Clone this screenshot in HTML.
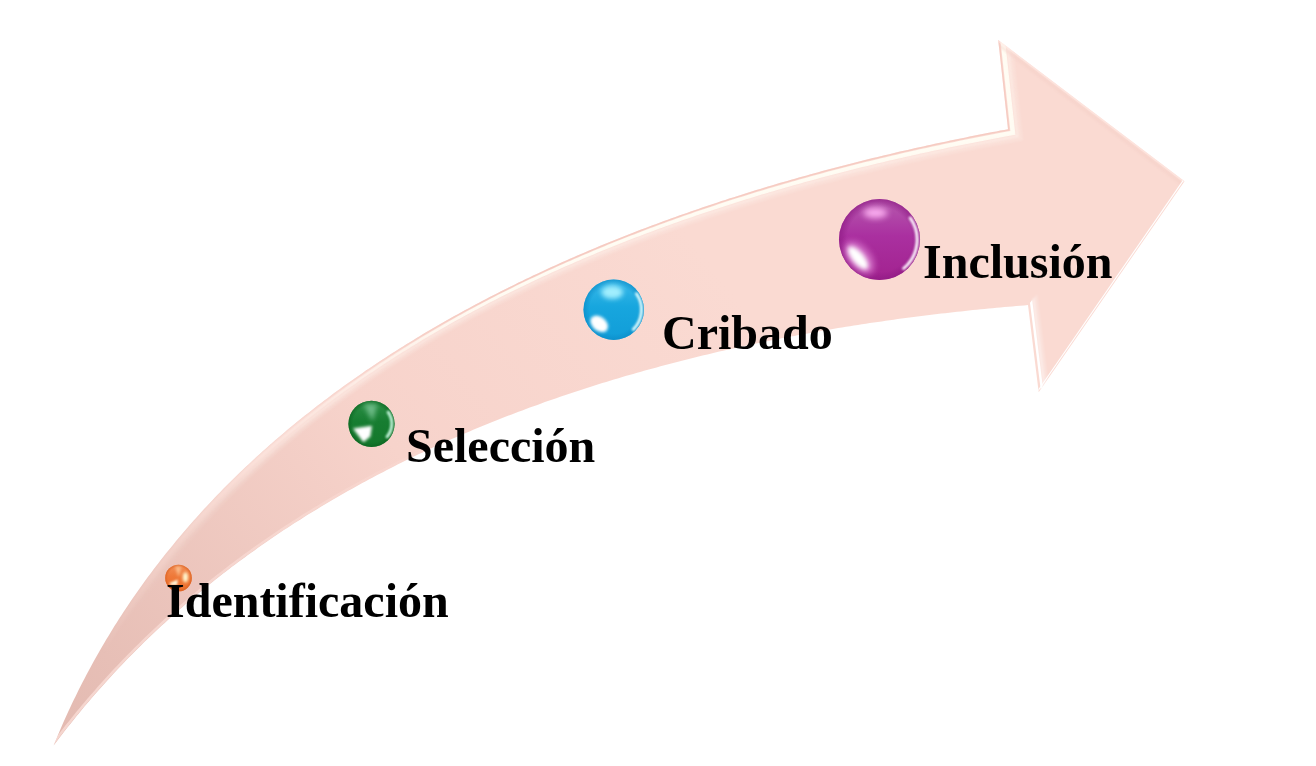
<!DOCTYPE html>
<html><head><meta charset="utf-8">
<style>
html,body{margin:0;padding:0;background:#fff;}
body{width:1316px;height:766px;overflow:hidden;position:relative;}
svg{position:absolute;left:0;top:0;}
.t{position:absolute;font-family:"Liberation Serif",serif;font-weight:bold;font-size:48px;line-height:1;color:#000;white-space:nowrap;will-change:transform;}
</style></head><body>
<svg width="1316" height="766" viewBox="0 0 1316 766">
  <defs>
    <linearGradient id="fill" gradientUnits="userSpaceOnUse" x1="60" y1="740" x2="700" y2="250">
      <stop offset="0" stop-color="#E3BAB1"/>
      <stop offset="0.55" stop-color="#F7D3CB"/>
      <stop offset="1" stop-color="#FADAD2"/>
    </linearGradient>
    <clipPath id="clip"><path d="M53.6,745.6 L55.2,741.7 L56.8,737.9 L58.4,734.0 L60.0,730.2 L61.6,726.4 L63.3,722.6 L65.0,718.8 L66.7,715.1 L68.4,711.3 L70.2,707.6 L71.9,703.8 L73.7,700.1 L75.5,696.4 L77.3,692.8 L79.1,689.1 L80.9,685.4 L82.8,681.8 L84.7,678.2 L86.6,674.6 L88.5,671.0 L90.4,667.4 L92.4,663.8 L94.3,660.3 L96.3,656.8 L98.3,653.2 L100.3,649.7 L102.3,646.2 L104.4,642.8 L106.4,639.3 L108.5,635.9 L110.6,632.4 L112.7,629.0 L114.8,625.6 L117.0,622.2 L119.1,618.8 L121.3,615.4 L123.5,612.1 L125.7,608.8 L127.9,605.4 L130.2,602.1 L132.4,598.8 L134.7,595.5 L137.0,592.3 L139.3,589.0 L141.6,585.8 L143.9,582.6 L146.2,579.3 L148.6,576.1 L151.0,573.0 L153.3,569.8 L155.8,566.6 L158.2,563.5 L160.6,560.3 L163.0,557.2 L165.5,554.1 L168.0,551.0 L170.5,548.0 L173.0,544.9 L175.5,541.8 L178.0,538.8 L180.6,535.8 L183.1,532.8 L185.7,529.8 L188.3,526.8 L190.9,523.8 L193.5,520.8 L196.1,517.9 L198.8,515.0 L201.4,512.0 L204.1,509.1 L206.8,506.2 L209.4,503.4 L212.2,500.5 L214.9,497.6 L217.6,494.8 L220.4,492.0 L223.1,489.1 L225.9,486.3 L228.7,483.5 L231.5,480.8 L234.3,478.0 L237.1,475.3 L239.9,472.5 L242.8,469.8 L245.6,467.1 L248.5,464.4 L251.4,461.7 L254.3,459.0 L257.2,456.3 L260.1,453.7 L263.0,451.0 L266.0,448.4 L268.9,445.8 L271.9,443.2 L274.9,440.6 L277.9,438.0 L280.9,435.4 L283.9,432.9 L286.9,430.3 L289.9,427.8 L293.0,425.3 L296.0,422.8 L299.1,420.3 L302.2,417.8 L305.3,415.3 L308.4,412.9 L311.5,410.4 L314.6,408.0 L317.7,405.6 L320.9,403.2 L324.0,400.8 L327.2,398.4 L330.4,396.0 L333.6,393.6 L336.7,391.3 L340.0,389.0 L343.2,386.6 L346.4,384.3 L349.6,382.0 L352.9,379.7 L356.1,377.4 L359.4,375.2 L362.6,372.9 L365.9,370.6 L369.2,368.4 L372.5,366.2 L375.8,364.0 L379.1,361.8 L382.5,359.6 L385.8,357.4 L389.1,355.2 L392.5,353.1 L395.9,350.9 L399.2,348.8 L402.6,346.7 L406.0,344.6 L409.4,342.4 L412.8,340.4 L416.2,338.3 L419.6,336.2 L423.1,334.1 L426.5,332.1 L430.0,330.1 L433.4,328.0 L436.9,326.0 L440.3,324.0 L443.8,322.0 L447.3,320.0 L450.8,318.1 L454.3,316.1 L457.8,314.2 L461.3,312.2 L464.8,310.3 L468.4,308.4 L471.9,306.5 L475.5,304.6 L479.0,302.7 L482.6,300.8 L486.1,298.9 L489.7,297.1 L493.3,295.2 L496.9,293.4 L500.5,291.6 L504.1,289.8 L507.7,288.0 L511.3,286.2 L514.9,284.4 L518.5,282.6 L522.1,280.9 L525.8,279.1 L529.4,277.4 L533.1,275.6 L536.7,273.9 L540.4,272.2 L544.1,270.5 L547.7,268.8 L551.4,267.1 L555.1,265.4 L558.8,263.8 L562.5,262.1 L566.2,260.5 L569.9,258.8 L573.6,257.2 L577.3,255.6 L581.0,254.0 L584.7,252.4 L588.5,250.8 L592.2,249.2 L595.9,247.7 L599.7,246.1 L603.4,244.6 L607.2,243.0 L610.9,241.5 L614.7,240.0 L618.5,238.5 L622.2,237.0 L626.0,235.5 L629.8,234.0 L633.6,232.5 L637.3,231.1 L641.1,229.6 L644.9,228.2 L648.7,226.7 L652.5,225.3 L656.3,223.9 L660.1,222.5 L663.9,221.1 L667.8,219.7 L671.6,218.3 L675.4,216.9 L679.2,215.6 L683.0,214.2 L686.9,212.9 L690.7,211.5 L694.5,210.2 L698.4,208.9 L702.2,207.6 L706.1,206.3 L709.9,205.0 L713.8,203.7 L717.6,202.4 L721.5,201.1 L725.3,199.9 L729.2,198.6 L733.0,197.4 L736.9,196.2 L740.8,194.9 L744.6,193.7 L748.5,192.5 L752.4,191.3 L756.2,190.1 L760.1,188.9 L764.0,187.8 L767.9,186.6 L771.7,185.4 L775.6,184.3 L779.5,183.1 L783.4,182.0 L787.3,180.9 L791.1,179.8 L795.0,178.7 L798.9,177.6 L802.8,176.5 L806.7,175.4 L810.6,174.3 L814.5,173.2 L818.3,172.2 L822.2,171.1 L826.1,170.1 L830.0,169.0 L833.9,168.0 L837.8,167.0 L841.7,166.0 L845.6,165.0 L849.5,164.0 L853.4,163.0 L857.2,162.0 L861.1,161.0 L865.0,160.0 L868.9,159.1 L872.8,158.1 L876.7,157.2 L880.6,156.2 L884.5,155.3 L888.3,154.4 L892.2,153.5 L896.1,152.6 L900.0,151.6 L903.9,150.8 L907.7,149.9 L911.6,149.0 L915.5,148.1 L919.4,147.2 L923.3,146.4 L927.1,145.5 L931.0,144.7 L934.9,143.8 L938.7,143.0 L942.6,142.2 L946.5,141.4 L950.3,140.6 L954.2,139.8 L958.0,139.0 L961.9,138.2 L965.8,137.4 L969.6,136.6 L973.5,135.8 L977.3,135.1 L981.1,134.3 L985.0,133.6 L988.8,132.8 L992.7,132.1 L996.5,131.4 L1000.3,130.6 L1004.2,129.9 L1008.0,129.2 L998.2,40.0 L1184.5,181.2 L1038.7,392.3 L1028.0,305.1 L1024.1,305.4 L1020.1,305.7 L1016.2,306.1 L1012.3,306.4 L1008.4,306.8 L1004.4,307.1 L1000.5,307.5 L996.6,307.8 L992.6,308.2 L988.7,308.6 L984.7,309.0 L980.8,309.3 L976.8,309.7 L972.9,310.1 L968.9,310.6 L965.0,311.0 L961.0,311.4 L957.1,311.8 L953.1,312.3 L949.2,312.7 L945.2,313.2 L941.2,313.6 L937.3,314.1 L933.3,314.6 L929.4,315.0 L925.4,315.5 L921.4,316.0 L917.5,316.5 L913.5,317.0 L909.5,317.5 L905.6,318.1 L901.6,318.6 L897.6,319.1 L893.7,319.7 L889.7,320.2 L885.7,320.8 L881.7,321.4 L877.8,321.9 L873.8,322.5 L869.8,323.1 L865.9,323.7 L861.9,324.3 L857.9,324.9 L853.9,325.6 L850.0,326.2 L846.0,326.8 L842.0,327.5 L838.1,328.1 L834.1,328.8 L830.1,329.5 L826.1,330.1 L822.2,330.8 L818.2,331.5 L814.2,332.2 L810.3,332.9 L806.3,333.7 L802.3,334.4 L798.4,335.1 L794.4,335.9 L790.4,336.6 L786.5,337.4 L782.5,338.1 L778.5,338.9 L774.6,339.7 L770.6,340.5 L766.7,341.3 L762.7,342.1 L758.8,342.9 L754.8,343.8 L750.8,344.6 L746.9,345.4 L742.9,346.3 L739.0,347.2 L735.1,348.0 L731.1,348.9 L727.2,349.8 L723.2,350.7 L719.3,351.6 L715.3,352.5 L711.4,353.4 L707.5,354.4 L703.6,355.3 L699.6,356.3 L695.7,357.2 L691.8,358.2 L687.9,359.2 L683.9,360.2 L680.0,361.2 L676.1,362.2 L672.2,363.2 L668.3,364.2 L664.4,365.3 L660.5,366.3 L656.6,367.4 L652.7,368.4 L648.8,369.5 L644.9,370.6 L641.0,371.7 L637.1,372.8 L633.2,373.9 L629.4,375.0 L625.5,376.1 L621.6,377.3 L617.7,378.4 L613.9,379.6 L610.0,380.7 L606.2,381.9 L602.3,383.1 L598.4,384.3 L594.6,385.5 L590.8,386.7 L586.9,388.0 L583.1,389.2 L579.3,390.4 L575.4,391.7 L571.6,393.0 L567.8,394.3 L564.0,395.5 L560.2,396.8 L556.3,398.2 L552.5,399.5 L548.7,400.8 L544.9,402.1 L541.2,403.5 L537.4,404.9 L533.6,406.2 L529.8,407.6 L526.0,409.0 L522.3,410.4 L518.5,411.8 L514.8,413.2 L511.0,414.7 L507.3,416.1 L503.5,417.6 L499.8,419.0 L496.1,420.5 L492.3,422.0 L488.6,423.5 L484.9,425.0 L481.2,426.5 L477.5,428.1 L473.8,429.6 L470.1,431.2 L466.4,432.7 L462.7,434.3 L459.0,435.9 L455.4,437.5 L451.7,439.1 L448.1,440.7 L444.4,442.4 L440.8,444.0 L437.1,445.7 L433.5,447.3 L429.9,449.0 L426.2,450.7 L422.6,452.4 L419.0,454.1 L415.4,455.8 L411.8,457.6 L408.2,459.3 L404.6,461.1 L401.1,462.8 L397.5,464.6 L393.9,466.4 L390.4,468.2 L386.8,470.0 L383.3,471.9 L379.7,473.7 L376.2,475.6 L372.7,477.4 L369.2,479.3 L365.7,481.2 L362.2,483.1 L358.7,485.0 L355.2,486.9 L351.7,488.9 L348.2,490.8 L344.8,492.8 L341.3,494.7 L337.9,496.7 L334.4,498.7 L331.0,500.7 L327.6,502.7 L324.2,504.8 L320.8,506.8 L317.4,508.9 L314.0,510.9 L310.6,513.0 L307.2,515.1 L303.8,517.2 L300.5,519.4 L297.1,521.5 L293.8,523.6 L290.5,525.8 L287.1,528.0 L283.8,530.1 L280.5,532.3 L277.2,534.6 L273.9,536.8 L270.6,539.0 L267.4,541.3 L264.1,543.5 L260.8,545.8 L257.6,548.1 L254.4,550.4 L251.1,552.7 L247.9,555.0 L244.7,557.4 L241.5,559.7 L238.3,562.1 L235.1,564.5 L231.9,566.8 L228.8,569.2 L225.6,571.7 L222.5,574.1 L219.4,576.5 L216.2,579.0 L213.1,581.5 L210.0,584.0 L206.9,586.5 L203.8,589.0 L200.8,591.5 L197.7,594.0 L194.6,596.6 L191.6,599.2 L188.6,601.7 L185.5,604.3 L182.5,606.9 L179.5,609.6 L176.5,612.2 L173.5,614.8 L170.6,617.5 L167.6,620.2 L164.7,622.9 L161.7,625.6 L158.8,628.3 L155.9,631.0 L153.0,633.8 L150.1,636.5 L147.2,639.3 L144.3,642.1 L141.4,644.9 L138.6,647.7 L135.8,650.6 L132.9,653.4 L130.1,656.3 L127.3,659.1 L124.5,662.0 L121.7,664.9 L119.0,667.8 L116.2,670.8 L113.4,673.7 L110.7,676.7 L108.0,679.7 L105.3,682.7 L102.6,685.7 L99.9,688.7 L97.2,691.7 L94.5,694.8 L91.9,697.8 L89.2,700.9 L86.6,704.0 L84.0,707.1 L81.4,710.2 L78.8,713.4 L76.2,716.5 L73.7,719.7 L71.1,722.9 L68.6,726.1 L66.0,729.3 L63.5,732.5 L61.0,735.8 L58.5,739.0 L56.1,742.3 L53.6,745.6 Z"/></clipPath>
    <filter id="blur1" x="-5%" y="-5%" width="110%" height="110%"><feGaussianBlur stdDeviation="1.3"/></filter>
    <filter id="blur2" x="-5%" y="-5%" width="110%" height="110%"><feGaussianBlur stdDeviation="0.6"/></filter>
    <linearGradient id="hl" gradientUnits="userSpaceOnUse" x1="250" y1="460" x2="470" y2="312">
      <stop offset="0" stop-color="#FFFCF3" stop-opacity="0"/>
      <stop offset="1" stop-color="#FFFCF3" stop-opacity="1"/>
    </linearGradient>
    <linearGradient id="hl2" gradientUnits="userSpaceOnUse" x1="110" y1="620" x2="320" y2="403">
      <stop offset="0" stop-color="#FFF6F0" stop-opacity="0"/>
      <stop offset="1" stop-color="#FFF6F0" stop-opacity="1"/>
    </linearGradient>
    <linearGradient id="el" gradientUnits="userSpaceOnUse" x1="230" y1="475" x2="450" y2="320">
      <stop offset="0" stop-color="#F1BAAF" stop-opacity="0"/>
      <stop offset="1" stop-color="#F1BAAF" stop-opacity="0.45"/>
    </linearGradient>
    <linearGradient id="hlA" gradientUnits="userSpaceOnUse" x1="100" y1="650" x2="520" y2="282">
      <stop offset="0" stop-color="#FFE8E2" stop-opacity="0"/>
      <stop offset="0.45" stop-color="#FFE8E2" stop-opacity="0.75"/>
      <stop offset="1" stop-color="#FFE8E2" stop-opacity="0"/>
    </linearGradient>
    <linearGradient id="ll" gradientUnits="userSpaceOnUse" x1="80" y1="710" x2="460" y2="430">
      <stop offset="0" stop-color="#FFE4DE" stop-opacity="0.65"/>
      <stop offset="0.6" stop-color="#FFE4DE" stop-opacity="0.45"/>
      <stop offset="1" stop-color="#FFE4DE" stop-opacity="0"/>
    </linearGradient>
    
    <linearGradient id="sob" x1="0" y1="0" x2="0" y2="1">
      <stop offset="0" stop-color="#F39058"/>
      <stop offset="0.45" stop-color="#EE7838"/>
      <stop offset="1" stop-color="#EB6F2D"/>
    </linearGradient>
    <radialGradient id="soe" cx="0.5" cy="0.5" r="0.5">
      <stop offset="0.8" stop-color="#D85E1E" stop-opacity="0"/>
      <stop offset="1" stop-color="#D85E1E" stop-opacity="0.7"/>
    </radialGradient>
    <filter id="sof1" x="-50%" y="-50%" width="200%" height="200%"><feGaussianBlur stdDeviation="0.12"/></filter>
    <filter id="sof2" x="-50%" y="-50%" width="200%" height="200%"><feGaussianBlur stdDeviation="0.07"/></filter>
    <filter id="sof3" x="-50%" y="-50%" width="200%" height="200%"><feGaussianBlur stdDeviation="0.1"/></filter>
    <linearGradient id="sgb" x1="0" y1="0" x2="0" y2="1">
      <stop offset="0" stop-color="#2E9048"/>
      <stop offset="0.45" stop-color="#177D31"/>
      <stop offset="1" stop-color="#13772B"/>
    </linearGradient>
    <radialGradient id="sge" cx="0.5" cy="0.5" r="0.5">
      <stop offset="0.8" stop-color="#0B6420" stop-opacity="0"/>
      <stop offset="1" stop-color="#0B6420" stop-opacity="0.7"/>
    </radialGradient>
    <filter id="sgf1" x="-50%" y="-50%" width="200%" height="200%"><feGaussianBlur stdDeviation="0.12"/></filter>
    <filter id="sgf2" x="-50%" y="-50%" width="200%" height="200%"><feGaussianBlur stdDeviation="0.07"/></filter>
    <filter id="sgf3" x="-50%" y="-50%" width="200%" height="200%"><feGaussianBlur stdDeviation="0.05"/></filter>
    <linearGradient id="sbb" x1="0" y1="0" x2="0" y2="1">
      <stop offset="0" stop-color="#3CBAEA"/>
      <stop offset="0.45" stop-color="#17A6DE"/>
      <stop offset="1" stop-color="#119DD8"/>
    </linearGradient>
    <radialGradient id="sbe" cx="0.5" cy="0.5" r="0.5">
      <stop offset="0.8" stop-color="#0B8CC8" stop-opacity="0"/>
      <stop offset="1" stop-color="#0B8CC8" stop-opacity="0.7"/>
    </radialGradient>
    <filter id="sbf1" x="-50%" y="-50%" width="200%" height="200%"><feGaussianBlur stdDeviation="0.08"/></filter>
    <filter id="sbf2" x="-50%" y="-50%" width="200%" height="200%"><feGaussianBlur stdDeviation="0.05"/></filter>
    <filter id="sbf3" x="-50%" y="-50%" width="200%" height="200%"><feGaussianBlur stdDeviation="0.03"/></filter>
    <linearGradient id="spb" x1="0" y1="0" x2="0" y2="1">
      <stop offset="0" stop-color="#B65AAE"/>
      <stop offset="0.45" stop-color="#AA30A0"/>
      <stop offset="1" stop-color="#A2228F"/>
    </linearGradient>
    <radialGradient id="spe" cx="0.5" cy="0.5" r="0.5">
      <stop offset="0.8" stop-color="#8E1A84" stop-opacity="0"/>
      <stop offset="1" stop-color="#8E1A84" stop-opacity="0.7"/>
    </radialGradient>
    <filter id="spf1" x="-50%" y="-50%" width="200%" height="200%"><feGaussianBlur stdDeviation="0.08"/></filter>
    <filter id="spf2" x="-50%" y="-50%" width="200%" height="200%"><feGaussianBlur stdDeviation="0.05"/></filter>
    <filter id="spf3" x="-50%" y="-50%" width="200%" height="200%"><feGaussianBlur stdDeviation="0.025"/></filter>
  </defs>
  <path d="M53.6,745.6 L55.2,741.7 L56.8,737.9 L58.4,734.0 L60.0,730.2 L61.6,726.4 L63.3,722.6 L65.0,718.8 L66.7,715.1 L68.4,711.3 L70.2,707.6 L71.9,703.8 L73.7,700.1 L75.5,696.4 L77.3,692.8 L79.1,689.1 L80.9,685.4 L82.8,681.8 L84.7,678.2 L86.6,674.6 L88.5,671.0 L90.4,667.4 L92.4,663.8 L94.3,660.3 L96.3,656.8 L98.3,653.2 L100.3,649.7 L102.3,646.2 L104.4,642.8 L106.4,639.3 L108.5,635.9 L110.6,632.4 L112.7,629.0 L114.8,625.6 L117.0,622.2 L119.1,618.8 L121.3,615.4 L123.5,612.1 L125.7,608.8 L127.9,605.4 L130.2,602.1 L132.4,598.8 L134.7,595.5 L137.0,592.3 L139.3,589.0 L141.6,585.8 L143.9,582.6 L146.2,579.3 L148.6,576.1 L151.0,573.0 L153.3,569.8 L155.8,566.6 L158.2,563.5 L160.6,560.3 L163.0,557.2 L165.5,554.1 L168.0,551.0 L170.5,548.0 L173.0,544.9 L175.5,541.8 L178.0,538.8 L180.6,535.8 L183.1,532.8 L185.7,529.8 L188.3,526.8 L190.9,523.8 L193.5,520.8 L196.1,517.9 L198.8,515.0 L201.4,512.0 L204.1,509.1 L206.8,506.2 L209.4,503.4 L212.2,500.5 L214.9,497.6 L217.6,494.8 L220.4,492.0 L223.1,489.1 L225.9,486.3 L228.7,483.5 L231.5,480.8 L234.3,478.0 L237.1,475.3 L239.9,472.5 L242.8,469.8 L245.6,467.1 L248.5,464.4 L251.4,461.7 L254.3,459.0 L257.2,456.3 L260.1,453.7 L263.0,451.0 L266.0,448.4 L268.9,445.8 L271.9,443.2 L274.9,440.6 L277.9,438.0 L280.9,435.4 L283.9,432.9 L286.9,430.3 L289.9,427.8 L293.0,425.3 L296.0,422.8 L299.1,420.3 L302.2,417.8 L305.3,415.3 L308.4,412.9 L311.5,410.4 L314.6,408.0 L317.7,405.6 L320.9,403.2 L324.0,400.8 L327.2,398.4 L330.4,396.0 L333.6,393.6 L336.7,391.3 L340.0,389.0 L343.2,386.6 L346.4,384.3 L349.6,382.0 L352.9,379.7 L356.1,377.4 L359.4,375.2 L362.6,372.9 L365.9,370.6 L369.2,368.4 L372.5,366.2 L375.8,364.0 L379.1,361.8 L382.5,359.6 L385.8,357.4 L389.1,355.2 L392.5,353.1 L395.9,350.9 L399.2,348.8 L402.6,346.7 L406.0,344.6 L409.4,342.4 L412.8,340.4 L416.2,338.3 L419.6,336.2 L423.1,334.1 L426.5,332.1 L430.0,330.1 L433.4,328.0 L436.9,326.0 L440.3,324.0 L443.8,322.0 L447.3,320.0 L450.8,318.1 L454.3,316.1 L457.8,314.2 L461.3,312.2 L464.8,310.3 L468.4,308.4 L471.9,306.5 L475.5,304.6 L479.0,302.7 L482.6,300.8 L486.1,298.9 L489.7,297.1 L493.3,295.2 L496.9,293.4 L500.5,291.6 L504.1,289.8 L507.7,288.0 L511.3,286.2 L514.9,284.4 L518.5,282.6 L522.1,280.9 L525.8,279.1 L529.4,277.4 L533.1,275.6 L536.7,273.9 L540.4,272.2 L544.1,270.5 L547.7,268.8 L551.4,267.1 L555.1,265.4 L558.8,263.8 L562.5,262.1 L566.2,260.5 L569.9,258.8 L573.6,257.2 L577.3,255.6 L581.0,254.0 L584.7,252.4 L588.5,250.8 L592.2,249.2 L595.9,247.7 L599.7,246.1 L603.4,244.6 L607.2,243.0 L610.9,241.5 L614.7,240.0 L618.5,238.5 L622.2,237.0 L626.0,235.5 L629.8,234.0 L633.6,232.5 L637.3,231.1 L641.1,229.6 L644.9,228.2 L648.7,226.7 L652.5,225.3 L656.3,223.9 L660.1,222.5 L663.9,221.1 L667.8,219.7 L671.6,218.3 L675.4,216.9 L679.2,215.6 L683.0,214.2 L686.9,212.9 L690.7,211.5 L694.5,210.2 L698.4,208.9 L702.2,207.6 L706.1,206.3 L709.9,205.0 L713.8,203.7 L717.6,202.4 L721.5,201.1 L725.3,199.9 L729.2,198.6 L733.0,197.4 L736.9,196.2 L740.8,194.9 L744.6,193.7 L748.5,192.5 L752.4,191.3 L756.2,190.1 L760.1,188.9 L764.0,187.8 L767.9,186.6 L771.7,185.4 L775.6,184.3 L779.5,183.1 L783.4,182.0 L787.3,180.9 L791.1,179.8 L795.0,178.7 L798.9,177.6 L802.8,176.5 L806.7,175.4 L810.6,174.3 L814.5,173.2 L818.3,172.2 L822.2,171.1 L826.1,170.1 L830.0,169.0 L833.9,168.0 L837.8,167.0 L841.7,166.0 L845.6,165.0 L849.5,164.0 L853.4,163.0 L857.2,162.0 L861.1,161.0 L865.0,160.0 L868.9,159.1 L872.8,158.1 L876.7,157.2 L880.6,156.2 L884.5,155.3 L888.3,154.4 L892.2,153.5 L896.1,152.6 L900.0,151.6 L903.9,150.8 L907.7,149.9 L911.6,149.0 L915.5,148.1 L919.4,147.2 L923.3,146.4 L927.1,145.5 L931.0,144.7 L934.9,143.8 L938.7,143.0 L942.6,142.2 L946.5,141.4 L950.3,140.6 L954.2,139.8 L958.0,139.0 L961.9,138.2 L965.8,137.4 L969.6,136.6 L973.5,135.8 L977.3,135.1 L981.1,134.3 L985.0,133.6 L988.8,132.8 L992.7,132.1 L996.5,131.4 L1000.3,130.6 L1004.2,129.9 L1008.0,129.2 L998.2,40.0 L1184.5,181.2 L1038.7,392.3 L1028.0,305.1 L1024.1,305.4 L1020.1,305.7 L1016.2,306.1 L1012.3,306.4 L1008.4,306.8 L1004.4,307.1 L1000.5,307.5 L996.6,307.8 L992.6,308.2 L988.7,308.6 L984.7,309.0 L980.8,309.3 L976.8,309.7 L972.9,310.1 L968.9,310.6 L965.0,311.0 L961.0,311.4 L957.1,311.8 L953.1,312.3 L949.2,312.7 L945.2,313.2 L941.2,313.6 L937.3,314.1 L933.3,314.6 L929.4,315.0 L925.4,315.5 L921.4,316.0 L917.5,316.5 L913.5,317.0 L909.5,317.5 L905.6,318.1 L901.6,318.6 L897.6,319.1 L893.7,319.7 L889.7,320.2 L885.7,320.8 L881.7,321.4 L877.8,321.9 L873.8,322.5 L869.8,323.1 L865.9,323.7 L861.9,324.3 L857.9,324.9 L853.9,325.6 L850.0,326.2 L846.0,326.8 L842.0,327.5 L838.1,328.1 L834.1,328.8 L830.1,329.5 L826.1,330.1 L822.2,330.8 L818.2,331.5 L814.2,332.2 L810.3,332.9 L806.3,333.7 L802.3,334.4 L798.4,335.1 L794.4,335.9 L790.4,336.6 L786.5,337.4 L782.5,338.1 L778.5,338.9 L774.6,339.7 L770.6,340.5 L766.7,341.3 L762.7,342.1 L758.8,342.9 L754.8,343.8 L750.8,344.6 L746.9,345.4 L742.9,346.3 L739.0,347.2 L735.1,348.0 L731.1,348.9 L727.2,349.8 L723.2,350.7 L719.3,351.6 L715.3,352.5 L711.4,353.4 L707.5,354.4 L703.6,355.3 L699.6,356.3 L695.7,357.2 L691.8,358.2 L687.9,359.2 L683.9,360.2 L680.0,361.2 L676.1,362.2 L672.2,363.2 L668.3,364.2 L664.4,365.3 L660.5,366.3 L656.6,367.4 L652.7,368.4 L648.8,369.5 L644.9,370.6 L641.0,371.7 L637.1,372.8 L633.2,373.9 L629.4,375.0 L625.5,376.1 L621.6,377.3 L617.7,378.4 L613.9,379.6 L610.0,380.7 L606.2,381.9 L602.3,383.1 L598.4,384.3 L594.6,385.5 L590.8,386.7 L586.9,388.0 L583.1,389.2 L579.3,390.4 L575.4,391.7 L571.6,393.0 L567.8,394.3 L564.0,395.5 L560.2,396.8 L556.3,398.2 L552.5,399.5 L548.7,400.8 L544.9,402.1 L541.2,403.5 L537.4,404.9 L533.6,406.2 L529.8,407.6 L526.0,409.0 L522.3,410.4 L518.5,411.8 L514.8,413.2 L511.0,414.7 L507.3,416.1 L503.5,417.6 L499.8,419.0 L496.1,420.5 L492.3,422.0 L488.6,423.5 L484.9,425.0 L481.2,426.5 L477.5,428.1 L473.8,429.6 L470.1,431.2 L466.4,432.7 L462.7,434.3 L459.0,435.9 L455.4,437.5 L451.7,439.1 L448.1,440.7 L444.4,442.4 L440.8,444.0 L437.1,445.7 L433.5,447.3 L429.9,449.0 L426.2,450.7 L422.6,452.4 L419.0,454.1 L415.4,455.8 L411.8,457.6 L408.2,459.3 L404.6,461.1 L401.1,462.8 L397.5,464.6 L393.9,466.4 L390.4,468.2 L386.8,470.0 L383.3,471.9 L379.7,473.7 L376.2,475.6 L372.7,477.4 L369.2,479.3 L365.7,481.2 L362.2,483.1 L358.7,485.0 L355.2,486.9 L351.7,488.9 L348.2,490.8 L344.8,492.8 L341.3,494.7 L337.9,496.7 L334.4,498.7 L331.0,500.7 L327.6,502.7 L324.2,504.8 L320.8,506.8 L317.4,508.9 L314.0,510.9 L310.6,513.0 L307.2,515.1 L303.8,517.2 L300.5,519.4 L297.1,521.5 L293.8,523.6 L290.5,525.8 L287.1,528.0 L283.8,530.1 L280.5,532.3 L277.2,534.6 L273.9,536.8 L270.6,539.0 L267.4,541.3 L264.1,543.5 L260.8,545.8 L257.6,548.1 L254.4,550.4 L251.1,552.7 L247.9,555.0 L244.7,557.4 L241.5,559.7 L238.3,562.1 L235.1,564.5 L231.9,566.8 L228.8,569.2 L225.6,571.7 L222.5,574.1 L219.4,576.5 L216.2,579.0 L213.1,581.5 L210.0,584.0 L206.9,586.5 L203.8,589.0 L200.8,591.5 L197.7,594.0 L194.6,596.6 L191.6,599.2 L188.6,601.7 L185.5,604.3 L182.5,606.9 L179.5,609.6 L176.5,612.2 L173.5,614.8 L170.6,617.5 L167.6,620.2 L164.7,622.9 L161.7,625.6 L158.8,628.3 L155.9,631.0 L153.0,633.8 L150.1,636.5 L147.2,639.3 L144.3,642.1 L141.4,644.9 L138.6,647.7 L135.8,650.6 L132.9,653.4 L130.1,656.3 L127.3,659.1 L124.5,662.0 L121.7,664.9 L119.0,667.8 L116.2,670.8 L113.4,673.7 L110.7,676.7 L108.0,679.7 L105.3,682.7 L102.6,685.7 L99.9,688.7 L97.2,691.7 L94.5,694.8 L91.9,697.8 L89.2,700.9 L86.6,704.0 L84.0,707.1 L81.4,710.2 L78.8,713.4 L76.2,716.5 L73.7,719.7 L71.1,722.9 L68.6,726.1 L66.0,729.3 L63.5,732.5 L61.0,735.8 L58.5,739.0 L56.1,742.3 L53.6,745.6 Z" fill="url(#fill)"/>
  <g clip-path="url(#clip)">
    <path d="M53.6,745.6 L55.2,741.7 L56.8,737.9 L58.4,734.0 L60.0,730.2 L61.6,726.4 L63.3,722.6 L65.0,718.8 L66.7,715.1 L68.4,711.3 L70.2,707.6 L71.9,703.8 L73.7,700.1 L75.5,696.4 L77.3,692.8 L79.1,689.1 L80.9,685.4 L82.8,681.8 L84.7,678.2 L86.6,674.6 L88.5,671.0 L90.4,667.4 L92.4,663.8 L94.3,660.3 L96.3,656.8 L98.3,653.2 L100.3,649.7 L102.3,646.2 L104.4,642.8 L106.4,639.3 L108.5,635.9 L110.6,632.4 L112.7,629.0 L114.8,625.6 L117.0,622.2 L119.1,618.8 L121.3,615.4 L123.5,612.1 L125.7,608.8 L127.9,605.4 L130.2,602.1 L132.4,598.8 L134.7,595.5 L137.0,592.3 L139.3,589.0 L141.6,585.8 L143.9,582.6 L146.2,579.3 L148.6,576.1 L151.0,573.0 L153.3,569.8 L155.8,566.6 L158.2,563.5 L160.6,560.3 L163.0,557.2 L165.5,554.1 L168.0,551.0 L170.5,548.0 L173.0,544.9 L175.5,541.8 L178.0,538.8 L180.6,535.8 L183.1,532.8 L185.7,529.8 L188.3,526.8 L190.9,523.8 L193.5,520.8 L196.1,517.9 L198.8,515.0 L201.4,512.0 L204.1,509.1 L206.8,506.2 L209.4,503.4 L212.2,500.5 L214.9,497.6 L217.6,494.8 L220.4,492.0 L223.1,489.1 L225.9,486.3 L228.7,483.5 L231.5,480.8 L234.3,478.0 L237.1,475.3 L239.9,472.5 L242.8,469.8 L245.6,467.1 L248.5,464.4 L251.4,461.7 L254.3,459.0 L257.2,456.3 L260.1,453.7 L263.0,451.0 L266.0,448.4 L268.9,445.8 L271.9,443.2 L274.9,440.6 L277.9,438.0 L280.9,435.4 L283.9,432.9 L286.9,430.3 L289.9,427.8 L293.0,425.3 L296.0,422.8 L299.1,420.3 L302.2,417.8 L305.3,415.3 L308.4,412.9 L311.5,410.4 L314.6,408.0 L317.7,405.6 L320.9,403.2 L324.0,400.8 L327.2,398.4 L330.4,396.0 L333.6,393.6 L336.7,391.3 L340.0,389.0 L343.2,386.6 L346.4,384.3 L349.6,382.0 L352.9,379.7 L356.1,377.4 L359.4,375.2 L362.6,372.9 L365.9,370.6 L369.2,368.4 L372.5,366.2 L375.8,364.0 L379.1,361.8 L382.5,359.6 L385.8,357.4 L389.1,355.2 L392.5,353.1 L395.9,350.9 L399.2,348.8 L402.6,346.7 L406.0,344.6 L409.4,342.4 L412.8,340.4 L416.2,338.3 L419.6,336.2 L423.1,334.1 L426.5,332.1 L430.0,330.1 L433.4,328.0 L436.9,326.0 L440.3,324.0 L443.8,322.0 L447.3,320.0 L450.8,318.1 L454.3,316.1 L457.8,314.2 L461.3,312.2 L464.8,310.3 L468.4,308.4 L471.9,306.5 L475.5,304.6 L479.0,302.7 L482.6,300.8 L486.1,298.9 L489.7,297.1 L493.3,295.2 L496.9,293.4 L500.5,291.6 L504.1,289.8 L507.7,288.0 L511.3,286.2 L514.9,284.4 L518.5,282.6 L522.1,280.9 L525.8,279.1 L529.4,277.4 L533.1,275.6 L536.7,273.9 L540.4,272.2 L544.1,270.5 L547.7,268.8 L551.4,267.1 L555.1,265.4 L558.8,263.8 L562.5,262.1 L566.2,260.5 L569.9,258.8 L573.6,257.2 L577.3,255.6 L581.0,254.0 L584.7,252.4 L588.5,250.8 L592.2,249.2 L595.9,247.7 L599.7,246.1 L603.4,244.6 L607.2,243.0 L610.9,241.5 L614.7,240.0 L618.5,238.5 L622.2,237.0 L626.0,235.5 L629.8,234.0 L633.6,232.5 L637.3,231.1 L641.1,229.6 L644.9,228.2 L648.7,226.7 L652.5,225.3 L656.3,223.9 L660.1,222.5 L663.9,221.1 L667.8,219.7 L671.6,218.3 L675.4,216.9 L679.2,215.6 L683.0,214.2 L686.9,212.9 L690.7,211.5 L694.5,210.2 L698.4,208.9 L702.2,207.6 L706.1,206.3 L709.9,205.0 L713.8,203.7 L717.6,202.4 L721.5,201.1 L725.3,199.9 L729.2,198.6 L733.0,197.4 L736.9,196.2 L740.8,194.9 L744.6,193.7 L748.5,192.5 L752.4,191.3 L756.2,190.1 L760.1,188.9 L764.0,187.8 L767.9,186.6 L771.7,185.4 L775.6,184.3 L779.5,183.1 L783.4,182.0 L787.3,180.9 L791.1,179.8 L795.0,178.7 L798.9,177.6 L802.8,176.5 L806.7,175.4 L810.6,174.3 L814.5,173.2 L818.3,172.2 L822.2,171.1 L826.1,170.1 L830.0,169.0 L833.9,168.0 L837.8,167.0 L841.7,166.0 L845.6,165.0 L849.5,164.0 L853.4,163.0 L857.2,162.0 L861.1,161.0 L865.0,160.0 L868.9,159.1 L872.8,158.1 L876.7,157.2 L880.6,156.2 L884.5,155.3 L888.3,154.4 L892.2,153.5 L896.1,152.6 L900.0,151.6 L903.9,150.8 L907.7,149.9 L911.6,149.0 L915.5,148.1 L919.4,147.2 L923.3,146.4 L927.1,145.5 L931.0,144.7 L934.9,143.8 L938.7,143.0 L942.6,142.2 L946.5,141.4 L950.3,140.6 L954.2,139.8 L958.0,139.0 L961.9,138.2 L965.8,137.4 L969.6,136.6 L973.5,135.8 L977.3,135.1 L981.1,134.3 L985.0,133.6 L988.8,132.8 L992.7,132.1 L996.5,131.4 L1000.3,130.6 L1004.2,129.9 L1008.0,129.2 L998.2,40.0" fill="none" stroke="url(#el)" stroke-width="3.0" stroke-linejoin="miter"/>
    <path d="M55.34,746.34 L56.92,742.47 L58.51,738.62 L60.11,734.79 L61.74,730.97 L63.39,727.17 L65.05,723.38 L66.73,719.61 L68.43,715.85 L70.14,712.10 L71.88,708.38 L73.63,704.66 L75.39,700.96 L77.18,697.28 L78.98,693.61 L80.80,689.95 L82.64,686.31 L84.50,682.68 L86.37,679.07 L88.26,675.47 L90.16,671.89 L92.09,668.32 L94.03,664.76 L95.98,661.22 L97.96,657.69 L99.95,654.18 L101.95,650.68 L103.98,647.20 L106.01,643.73 L108.07,640.28 L110.14,636.83 L112.23,633.41 L114.33,629.99 L116.45,626.60 L118.59,623.21 L120.74,619.84 L122.91,616.48 L125.09,613.14 L127.29,609.81 L129.50,606.49 L131.73,603.19 L133.98,599.90 L136.24,596.63 L138.51,593.37 L140.80,590.12 L143.11,586.89 L145.43,583.67 L147.77,580.46 L150.12,577.27 L152.48,574.09 L154.86,570.93 L157.26,567.78 L159.67,564.64 L162.10,561.51 L164.53,558.40 L166.99,555.30 L169.46,552.22 L171.94,549.15 L174.43,546.09 L176.94,543.05 L179.47,540.01 L182.01,537.00 L184.56,533.99 L187.13,531.00 L189.71,528.02 L192.30,525.05 L194.91,522.10 L197.53,519.16 L200.16,516.24 L202.81,513.32 L205.47,510.42 L208.15,507.53 L210.83,504.66 L213.54,501.80 L216.25,498.95 L218.98,496.11 L221.72,493.29 L224.47,490.48 L227.23,487.68 L230.01,484.89 L232.80,482.12 L235.61,479.36 L238.42,476.61 L241.25,473.88 L244.09,471.16 L246.94,468.45 L249.81,465.75 L252.69,463.06 L255.57,460.39 L258.48,457.73 L261.39,455.08 L264.31,452.45 L267.25,449.82 L270.20,447.21 L273.16,444.62 L276.13,442.03 L279.11,439.45 L282.11,436.89 L285.11,434.34 L288.13,431.81 L291.16,429.28 L294.20,426.77 L297.25,424.26 L300.31,421.77 L303.38,419.30 L306.46,416.83 L309.56,414.38 L312.66,411.94 L315.78,409.51 L318.90,407.09 L322.04,404.68 L325.18,402.29 L328.34,399.90 L331.51,397.53 L334.68,395.17 L337.87,392.83 L341.07,390.49 L344.28,388.17 L347.49,385.85 L350.72,383.55 L353.96,381.26 L357.20,378.98 L360.46,376.72 L363.72,374.46 L367.00,372.22 L370.28,369.98 L373.58,367.76 L376.88,365.55 L380.19,363.35 L383.51,361.16 L386.84,358.99 L390.18,356.82 L393.53,354.67 L396.88,352.53 L400.25,350.39 L403.62,348.27 L407.01,346.16 L410.40,344.07 L413.80,341.98 L417.21,339.90 L420.62,337.84 L424.05,335.78 L427.48,333.74 L430.92,331.70 L434.37,329.68 L437.82,327.67 L441.29,325.67 L444.76,323.68 L448.24,321.70 L451.73,319.73 L455.22,317.78 L458.73,315.83 L462.24,313.90 L465.76,311.97 L469.28,310.06 L472.82,308.15 L476.36,306.26 L479.90,304.38 L483.46,302.51 L487.02,300.65 L490.58,298.79 L494.16,296.95 L497.74,295.12 L501.33,293.30 L504.92,291.49 L508.52,289.69 L512.13,287.90 L515.74,286.12 L519.36,284.35 L522.99,282.60 L526.62,280.85 L530.26,279.11 L533.90,277.38 L537.55,275.66 L541.21,273.95 L544.87,272.25 L548.54,270.56 L552.21,268.88 L555.89,267.21 L559.57,265.56 L563.26,263.91 L566.96,262.27 L570.66,260.64 L574.36,259.02 L578.07,257.40 L581.79,255.80 L585.51,254.21 L589.23,252.63 L592.96,251.06 L596.69,249.50 L600.43,247.94 L604.18,246.40 L607.92,244.86 L611.68,243.34 L615.43,241.82 L619.20,240.32 L622.96,238.82 L626.73,237.33 L630.50,235.86 L634.28,234.39 L638.06,232.93 L641.85,231.48 L645.64,230.04 L649.43,228.60 L653.23,227.18 L657.03,225.77 L660.83,224.36 L664.64,222.97 L668.45,221.58 L672.26,220.20 L676.08,218.83 L679.90,217.47 L683.72,216.12 L687.55,214.78 L691.38,213.44 L695.21,212.12 L699.05,210.80 L702.88,209.50 L706.72,208.20 L710.57,206.91 L714.41,205.63 L718.26,204.35 L722.11,203.09 L725.96,201.84 L729.81,200.59 L733.67,199.35 L737.53,198.12 L741.39,196.90 L745.25,195.69 L749.12,194.48 L752.98,193.28 L756.85,192.10 L760.72,190.92 L764.59,189.75 L768.46,188.58 L772.34,187.43 L776.21,186.28 L780.09,185.14 L783.96,184.01 L787.84,182.89 L791.72,181.78 L795.60,180.67 L799.48,179.57 L803.37,178.48 L807.25,177.40 L811.13,176.32 L815.02,175.26 L818.90,174.20 L822.79,173.15 L826.67,172.11 L830.56,171.07 L834.44,170.04 L838.33,169.02 L842.22,168.01 L846.10,167.01 L849.99,166.01 L853.88,165.02 L857.76,164.04 L861.65,163.07 L865.53,162.10 L869.42,161.14 L873.30,160.19 L877.19,159.25 L881.07,158.31 L884.95,157.38 L888.83,156.46 L892.71,155.55 L896.59,154.64 L900.47,153.74 L904.35,152.85 L908.23,151.96 L912.10,151.08 L915.98,150.21 L919.85,149.35 L923.72,148.49 L927.59,147.64 L931.46,146.80 L935.33,145.96 L939.19,145.13 L943.05,144.31 L946.92,143.50 L950.77,142.69 L954.63,141.89 L958.49,141.09 L962.34,140.31 L966.19,139.53 L970.04,138.75 L973.89,137.98 L977.73,137.22 L981.57,136.47 L985.41,135.72 L989.25,134.98 L993.08,134.25 L996.91,133.52 L1000.74,132.80 L1004.56,132.08 L1010.39,131.00 L1000.39,39.76 L1004.96,39.26 L1015.43,134.74 L1005.40,136.60 L1001.59,137.32 L997.76,138.03 L993.94,138.74 L990.11,139.47 L986.28,140.19 L982.44,140.93 L978.61,141.67 L974.77,142.42 L970.93,143.17 L967.08,143.93 L963.24,144.70 L959.39,145.47 L955.54,146.25 L951.68,147.04 L947.83,147.84 L943.97,148.64 L940.11,149.45 L936.25,150.26 L932.39,151.09 L928.53,151.91 L924.66,152.75 L920.80,153.59 L916.93,154.45 L913.06,155.30 L909.19,156.17 L905.31,157.04 L901.44,157.92 L897.57,158.81 L893.69,159.70 L889.81,160.60 L885.94,161.51 L882.06,162.42 L878.18,163.35 L874.30,164.28 L870.42,165.22 L866.54,166.16 L862.66,167.11 L858.78,168.07 L854.90,169.04 L851.01,170.02 L847.13,171.00 L843.25,171.99 L839.37,172.99 L835.49,174.00 L831.60,175.01 L827.72,176.03 L823.84,177.06 L819.96,178.10 L816.08,179.14 L812.20,180.19 L808.32,181.26 L804.44,182.32 L800.56,183.40 L796.69,184.48 L792.81,185.58 L788.94,186.68 L785.06,187.79 L781.19,188.90 L777.32,190.03 L773.45,191.16 L769.58,192.30 L765.71,193.45 L761.84,194.61 L757.98,195.77 L754.11,196.95 L750.25,198.13 L746.39,199.32 L742.53,200.52 L738.68,201.73 L734.82,202.94 L730.97,204.17 L727.12,205.40 L723.27,206.64 L719.43,207.89 L715.58,209.15 L711.74,210.42 L707.90,211.70 L704.07,212.98 L700.23,214.27 L696.40,215.58 L692.57,216.89 L688.75,218.21 L684.93,219.53 L681.11,220.87 L677.29,222.22 L673.48,223.57 L669.67,224.94 L665.86,226.31 L662.06,227.69 L658.26,229.08 L654.46,230.48 L650.67,231.89 L646.88,233.31 L643.10,234.74 L639.31,236.17 L635.54,237.62 L631.76,239.07 L627.99,240.54 L624.23,242.01 L620.46,243.49 L616.71,244.99 L612.95,246.49 L609.21,248.00 L605.46,249.52 L601.72,251.05 L597.99,252.59 L594.25,254.14 L590.53,255.69 L586.81,257.26 L583.09,258.84 L579.38,260.43 L575.67,262.02 L571.97,263.63 L568.28,265.25 L564.58,266.87 L560.90,268.51 L557.22,270.15 L553.54,271.81 L549.87,273.47 L546.21,275.15 L542.55,276.83 L538.90,278.53 L535.25,280.23 L531.61,281.95 L527.98,283.67 L524.35,285.41 L520.73,287.15 L517.11,288.91 L513.50,290.67 L509.90,292.45 L506.30,294.23 L502.71,296.03 L499.12,297.84 L495.55,299.65 L491.97,301.48 L488.41,303.32 L484.85,305.16 L481.30,307.02 L477.76,308.89 L474.22,310.77 L470.69,312.66 L467.17,314.56 L463.65,316.47 L460.14,318.39 L456.64,320.32 L453.15,322.26 L449.67,324.22 L446.20,326.20 L442.73,328.18 L439.28,330.18 L435.83,332.19 L432.39,334.20 L428.96,336.23 L425.53,338.27 L422.12,340.32 L418.71,342.38 L415.31,344.45 L411.92,346.53 L408.54,348.63 L405.16,350.73 L401.80,352.85 L398.44,354.97 L395.09,357.11 L391.75,359.26 L388.42,361.42 L385.10,363.59 L381.79,365.77 L378.49,367.96 L375.19,370.17 L371.91,372.38 L368.63,374.61 L365.37,376.85 L362.11,379.10 L358.86,381.36 L355.63,383.63 L352.40,385.91 L349.18,388.21 L345.97,390.52 L342.77,392.83 L339.59,395.16 L336.41,397.51 L333.24,399.86 L330.08,402.22 L326.94,404.60 L323.80,406.99 L320.67,409.39 L317.55,411.80 L314.45,414.22 L311.35,416.65 L308.27,419.10 L305.20,421.56 L302.13,424.03 L299.08,426.51 L296.04,429.00 L293.01,431.51 L289.99,434.03 L286.98,436.56 L283.99,439.10 L281.00,441.65 L278.03,444.22 L275.07,446.80 L272.12,449.39 L269.18,451.99 L266.25,454.61 L263.33,457.23 L260.43,459.87 L257.54,462.52 L254.66,465.19 L251.79,467.86 L248.94,470.55 L246.09,473.25 L243.26,475.97 L240.44,478.69 L237.64,481.43 L234.84,484.18 L232.06,486.95 L229.29,489.72 L226.54,492.51 L223.79,495.31 L221.06,498.13 L218.34,500.95 L215.64,503.79 L212.95,506.64 L210.27,509.51 L207.60,512.39 L204.95,515.28 L202.31,518.18 L199.69,521.10 L197.08,524.03 L194.48,526.97 L191.89,529.92 L189.32,532.89 L186.77,535.87 L184.22,538.87 L181.69,541.88 L179.18,544.90 L176.68,547.93 L174.19,550.98 L171.72,554.04 L169.26,557.11 L166.81,560.20 L164.38,563.30 L161.97,566.41 L159.56,569.54 L157.18,572.68 L154.81,575.83 L152.45,579.00 L150.11,582.18 L147.78,585.37 L145.47,588.58 L143.17,591.80 L140.89,595.03 L138.62,598.28 L136.37,601.55 L134.13,604.82 L131.91,608.11 L129.70,611.41 L127.51,614.73 L125.34,618.06 L123.18,621.41 L121.04,624.76 L118.91,628.14 L116.80,631.52 L114.70,634.92 L112.62,638.34 L110.56,641.76 L108.51,645.21 L106.48,648.66 L104.46,652.13 L102.47,655.62 L100.48,659.12 L98.52,662.63 L96.57,666.16 L94.64,669.70 L92.72,673.25 L90.82,676.82 L88.94,680.41 L87.08,684.01 L85.23,687.62 L83.40,691.25 L81.58,694.89 L79.79,698.55 L78.01,702.22 L76.25,705.90 L74.50,709.60 L72.77,713.32 L71.07,717.05 L69.37,720.79 L67.70,724.55 L66.04,728.33 L64.41,732.12 L62.79,735.92 L61.18,739.74 L59.60,743.57 L58.03,747.43 Z" fill="url(#hl)" filter="url(#blur2)"/>
    <path d="M55.90,746.56 L57.47,742.70 L59.06,738.85 L60.67,735.02 L62.29,731.21 L63.94,727.41 L65.60,723.62 L67.28,719.85 L68.97,716.10 L70.69,712.36 L72.42,708.63 L74.17,704.92 L75.94,701.22 L77.72,697.54 L79.52,693.87 L81.34,690.22 L83.18,686.58 L85.03,682.96 L86.90,679.35 L88.79,675.75 L90.69,672.17 L92.62,668.60 L94.55,665.05 L96.51,661.51 L98.48,657.99 L100.47,654.48 L102.47,650.98 L104.49,647.50 L106.53,644.04 L108.58,640.58 L110.65,637.15 L112.74,633.72 L114.84,630.31 L116.96,626.91 L119.09,623.53 L121.24,620.16 L123.41,616.81 L125.59,613.47 L127.79,610.14 L130.00,606.83 L132.23,603.53 L134.47,600.24 L136.73,596.97 L139.00,593.71 L141.29,590.47 L143.60,587.24 L145.92,584.02 L148.25,580.82 L150.60,577.63 L152.96,574.45 L155.34,571.29 L157.74,568.14 L160.15,565.00 L162.57,561.88 L165.01,558.77 L167.46,555.68 L169.92,552.60 L172.40,549.53 L174.90,546.47 L177.41,543.43 L179.93,540.40 L182.47,537.38 L185.02,534.38 L187.58,531.39 L190.16,528.41 L192.75,525.45 L195.36,522.50 L197.98,519.56 L200.61,516.64 L203.25,513.73 L205.91,510.83 L208.59,507.94 L211.27,505.07 L213.97,502.21 L216.68,499.36 L219.41,496.53 L222.15,493.71 L224.90,490.90 L227.66,488.10 L230.44,485.32 L233.22,482.55 L236.03,479.79 L238.84,477.04 L241.67,474.31 L244.50,471.59 L247.36,468.88 L250.22,466.19 L253.09,463.50 L255.98,460.83 L258.88,458.17 L261.79,455.53 L264.71,452.89 L267.65,450.27 L270.60,447.66 L273.55,445.07 L276.52,442.48 L279.50,439.91 L282.50,437.35 L285.50,434.80 L288.51,432.27 L291.54,429.74 L294.58,427.23 L297.63,424.73 L300.69,422.24 L303.76,419.77 L306.84,417.30 L309.93,414.85 L313.03,412.41 L316.14,409.98 L319.27,407.56 L322.40,405.16 L325.55,402.77 L328.70,400.38 L331.87,398.01 L335.04,395.66 L338.23,393.31 L341.42,390.97 L344.63,388.65 L347.84,386.34 L351.07,384.04 L354.30,381.75 L357.55,379.47 L360.80,377.21 L364.06,374.95 L367.34,372.71 L370.62,370.48 L373.91,368.26 L377.21,366.05 L380.52,363.85 L383.84,361.67 L387.17,359.49 L390.51,357.33 L393.85,355.17 L397.21,353.03 L400.57,350.90 L403.94,348.78 L407.32,346.67 L410.71,344.58 L414.11,342.49 L417.52,340.41 L420.93,338.35 L424.35,336.30 L427.78,334.25 L431.22,332.22 L434.67,330.20 L438.12,328.19 L441.59,326.19 L445.06,324.20 L448.54,322.22 L452.02,320.26 L455.52,318.30 L459.02,316.36 L462.53,314.42 L466.05,312.50 L469.57,310.59 L473.10,308.69 L476.64,306.80 L480.19,304.92 L483.74,303.05 L487.30,301.19 L490.87,299.34 L494.44,297.50 L498.02,295.67 L501.61,293.85 L505.20,292.05 L508.80,290.25 L512.41,288.46 L516.02,286.68 L519.64,284.92 L523.26,283.16 L526.89,281.41 L530.53,279.68 L534.17,277.95 L537.82,276.23 L541.48,274.52 L545.14,272.83 L548.80,271.14 L552.47,269.46 L556.15,267.80 L559.83,266.14 L563.52,264.49 L567.22,262.85 L570.91,261.22 L574.62,259.61 L578.33,258.00 L582.04,256.40 L585.76,254.81 L589.48,253.23 L593.21,251.66 L596.95,250.10 L600.68,248.55 L604.43,247.00 L608.17,245.47 L611.92,243.95 L615.68,242.44 L619.44,240.93 L623.21,239.44 L626.97,237.95 L630.75,236.48 L634.52,235.01 L638.30,233.55 L642.09,232.10 L645.88,230.66 L649.67,229.23 L653.46,227.81 L657.26,226.40 L661.07,225.00 L664.87,223.60 L668.68,222.22 L672.49,220.84 L676.31,219.47 L680.13,218.12 L683.95,216.77 L687.78,215.43 L691.60,214.09 L695.44,212.77 L699.27,211.46 L703.11,210.15 L706.94,208.85 L710.79,207.57 L714.63,206.29 L718.48,205.02 L722.33,203.75 L726.18,202.50 L730.03,201.26 L733.89,200.02 L737.74,198.79 L741.60,197.57 L745.46,196.36 L749.33,195.16 L753.19,193.96 L757.06,192.78 L760.93,191.60 L764.80,190.43 L768.67,189.27 L772.54,188.12 L776.41,186.97 L780.29,185.83 L784.17,184.70 L788.04,183.58 L791.92,182.47 L795.80,181.37 L799.68,180.27 L803.56,179.18 L807.44,178.10 L811.33,177.03 L815.21,175.96 L819.09,174.91 L822.98,173.86 L826.86,172.82 L830.75,171.78 L834.63,170.76 L838.52,169.74 L842.40,168.73 L846.29,167.73 L850.17,166.73 L854.06,165.75 L857.94,164.77 L861.83,163.80 L865.71,162.83 L869.60,161.87 L873.48,160.92 L877.36,159.98 L881.25,159.05 L885.13,158.12 L889.01,157.20 L892.89,156.29 L896.77,155.38 L900.64,154.48 L904.52,153.59 L908.40,152.71 L912.27,151.83 L916.15,150.96 L920.02,150.10 L923.89,149.25 L927.76,148.40 L931.62,147.56 L935.49,146.72 L939.35,145.89 L943.22,145.07 L947.08,144.26 L950.93,143.45 L954.79,142.66 L958.65,141.86 L962.50,141.08 L966.35,140.30 L970.20,139.53 L974.04,138.76 L977.88,138.00 L981.72,137.25 L985.56,136.50 L989.40,135.76 L993.23,135.03 L997.06,134.31 L1000.88,133.59 L1004.71,132.87 L1011.27,131.65 L1001.18,39.67 L1003.97,39.37 L1014.33,133.93 L1005.22,135.62 L1001.40,136.34 L997.58,137.05 L993.75,137.77 L989.92,138.49 L986.09,139.22 L982.25,139.96 L978.42,140.70 L974.58,141.45 L970.73,142.21 L966.89,142.97 L963.04,143.75 L959.19,144.52 L955.34,145.31 L951.49,146.10 L947.63,146.90 L943.77,147.70 L939.91,148.51 L936.05,149.33 L932.19,150.16 L928.33,150.99 L924.46,151.83 L920.59,152.68 L916.72,153.53 L912.85,154.39 L908.98,155.26 L905.11,156.13 L901.23,157.02 L897.36,157.91 L893.48,158.80 L889.60,159.71 L885.72,160.62 L881.85,161.54 L877.97,162.46 L874.09,163.40 L870.20,164.34 L866.32,165.29 L862.44,166.24 L858.56,167.21 L854.68,168.18 L850.79,169.15 L846.91,170.14 L843.03,171.13 L839.14,172.14 L835.26,173.15 L831.38,174.16 L827.50,175.19 L823.62,176.22 L819.73,177.26 L815.85,178.31 L811.97,179.36 L808.09,180.43 L804.21,181.50 L800.33,182.58 L796.45,183.67 L792.58,184.76 L788.70,185.87 L784.83,186.98 L780.95,188.10 L777.08,189.23 L773.21,190.36 L769.34,191.51 L765.47,192.66 L761.60,193.82 L757.74,194.99 L753.87,196.17 L750.01,197.35 L746.15,198.54 L742.29,199.75 L738.43,200.96 L734.58,202.18 L730.72,203.40 L726.87,204.64 L723.02,205.89 L719.18,207.14 L715.33,208.40 L711.49,209.67 L707.65,210.95 L703.81,212.24 L699.98,213.53 L696.15,214.84 L692.32,216.15 L688.49,217.48 L684.67,218.81 L680.85,220.15 L677.03,221.50 L673.22,222.86 L669.41,224.22 L665.60,225.60 L661.80,226.99 L658.00,228.38 L654.20,229.78 L650.41,231.19 L646.62,232.62 L642.83,234.05 L639.05,235.49 L635.27,236.94 L631.50,238.39 L627.73,239.86 L623.96,241.34 L620.20,242.82 L616.44,244.32 L612.68,245.82 L608.93,247.34 L605.19,248.86 L601.45,250.39 L597.71,251.94 L593.98,253.49 L590.26,255.05 L586.53,256.62 L582.82,258.20 L579.10,259.79 L575.40,261.39 L571.70,263.00 L568.00,264.62 L564.31,266.25 L560.62,267.89 L556.94,269.54 L553.26,271.19 L549.59,272.86 L545.93,274.54 L542.27,276.23 L538.62,277.93 L534.97,279.64 L531.33,281.35 L527.69,283.08 L524.07,284.82 L520.44,286.57 L516.83,288.33 L513.21,290.09 L509.61,291.87 L506.01,293.66 L502.42,295.46 L498.84,297.27 L495.26,299.09 L491.68,300.92 L488.12,302.76 L484.56,304.61 L481.01,306.47 L477.47,308.34 L473.93,310.23 L470.40,312.12 L466.88,314.02 L463.36,315.93 L459.85,317.86 L456.35,319.79 L452.86,321.74 L449.37,323.70 L445.90,325.68 L442.44,327.66 L438.98,329.66 L435.53,331.67 L432.09,333.69 L428.65,335.71 L425.23,337.75 L421.81,339.81 L418.40,341.87 L415.00,343.94 L411.60,346.02 L408.22,348.12 L404.84,350.22 L401.48,352.34 L398.12,354.47 L394.77,356.61 L391.43,358.76 L388.10,360.92 L384.77,363.09 L381.46,365.27 L378.15,367.46 L374.86,369.67 L371.57,371.89 L368.29,374.12 L365.03,376.35 L361.77,378.61 L358.52,380.87 L355.28,383.14 L352.05,385.43 L348.83,387.72 L345.62,390.03 L342.42,392.35 L339.23,394.68 L336.05,397.02 L332.88,399.38 L329.72,401.74 L326.57,404.12 L323.43,406.51 L320.31,408.91 L317.19,411.32 L314.08,413.75 L310.98,416.18 L307.90,418.63 L304.82,421.09 L301.76,423.56 L298.70,426.05 L295.66,428.54 L292.63,431.05 L289.61,433.57 L286.60,436.10 L283.60,438.64 L280.61,441.20 L277.64,443.77 L274.67,446.35 L271.72,448.94 L268.78,451.54 L265.85,454.16 L262.93,456.79 L260.03,459.43 L257.13,462.08 L254.25,464.75 L251.38,467.43 L248.52,470.12 L245.68,472.82 L242.85,475.54 L240.02,478.26 L237.22,481.00 L234.42,483.76 L231.64,486.52 L228.87,489.30 L226.11,492.09 L223.36,494.89 L220.63,497.71 L217.91,500.54 L215.20,503.38 L212.51,506.23 L209.83,509.10 L207.16,511.98 L204.51,514.87 L201.87,517.78 L199.24,520.70 L196.63,523.63 L194.03,526.57 L191.44,529.53 L188.87,532.50 L186.31,535.48 L183.76,538.48 L181.23,541.49 L178.72,544.51 L176.21,547.55 L173.72,550.60 L171.25,553.66 L168.79,556.74 L166.34,559.83 L163.91,562.93 L161.49,566.04 L159.09,569.17 L156.70,572.32 L154.33,575.47 L151.97,578.64 L149.62,581.82 L147.29,585.02 L144.98,588.23 L142.68,591.45 L140.40,594.69 L138.13,597.94 L135.87,601.21 L133.63,604.48 L131.41,607.78 L129.20,611.08 L127.01,614.40 L124.84,617.73 L122.67,621.08 L120.53,624.44 L118.40,627.82 L116.29,631.21 L114.19,634.61 L112.11,638.03 L110.04,641.46 L107.99,644.90 L105.96,648.36 L103.94,651.83 L101.94,655.32 L99.96,658.82 L97.99,662.34 L96.04,665.87 L94.11,669.41 L92.19,672.97 L90.29,676.54 L88.41,680.13 L86.54,683.73 L84.69,687.35 L82.86,690.98 L81.05,694.62 L79.25,698.28 L77.47,701.96 L75.70,705.65 L73.96,709.35 L72.23,713.07 L70.52,716.80 L68.83,720.55 L67.15,724.31 L65.49,728.09 L63.85,731.88 L62.23,735.69 L60.63,739.51 L59.04,743.34 L57.47,747.20 Z" fill="url(#hl)" opacity="0.8" filter="url(#blur2)"/>
    <g fill="url(#hl2)">
    <path d="M58.03,747.43 L59.60,743.57 L61.18,739.74 L62.79,735.92 L64.41,732.12 L66.04,728.33 L67.70,724.55 L69.37,720.79 L71.07,717.05 L72.77,713.32 L74.50,709.60 L76.25,705.90 L78.01,702.22 L79.79,698.55 L81.58,694.89 L83.40,691.25 L85.23,687.62 L87.08,684.01 L88.94,680.41 L90.82,676.82 L92.72,673.25 L94.64,669.70 L96.57,666.16 L98.52,662.63 L100.48,659.12 L102.47,655.62 L104.46,652.13 L106.48,648.66 L108.51,645.21 L110.56,641.76 L112.62,638.34 L114.70,634.92 L116.80,631.52 L118.91,628.14 L121.04,624.76 L123.18,621.41 L125.34,618.06 L127.51,614.73 L129.70,611.41 L131.91,608.11 L134.13,604.82 L136.37,601.55 L138.62,598.28 L140.89,595.03 L143.17,591.80 L145.47,588.58 L147.78,585.37 L150.11,582.18 L152.45,579.00 L154.81,575.83 L157.18,572.68 L159.56,569.54 L161.97,566.41 L164.38,563.30 L166.81,560.20 L169.26,557.11 L171.72,554.04 L174.19,550.98 L176.68,547.93 L179.18,544.90 L181.69,541.88 L184.22,538.87 L186.77,535.87 L189.32,532.89 L191.89,529.92 L194.48,526.97 L197.08,524.03 L199.69,521.10 L202.31,518.18 L204.95,515.28 L207.60,512.39 L210.27,509.51 L212.95,506.64 L215.64,503.79 L218.34,500.95 L221.06,498.13 L223.79,495.31 L226.54,492.51 L229.29,489.72 L232.06,486.95 L234.84,484.18 L237.64,481.43 L240.44,478.69 L243.26,475.97 L246.09,473.25 L248.94,470.55 L251.79,467.86 L254.66,465.19 L257.54,462.52 L260.43,459.87 L263.33,457.23 L266.25,454.61 L269.18,451.99 L272.12,449.39 L275.07,446.80 L278.03,444.22 L281.00,441.65 L283.99,439.10 L286.98,436.56 L289.99,434.03 L293.01,431.51 L296.04,429.00 L299.08,426.51 L302.13,424.03 L305.20,421.56 L308.27,419.10 L311.35,416.65 L314.45,414.22 L317.55,411.80 L320.67,409.39 L323.80,406.99 L326.94,404.60 L330.08,402.22 L333.24,399.86 L336.41,397.51 L339.59,395.16 L342.77,392.83 L345.97,390.52 L349.18,388.21 L352.40,385.91 L355.63,383.63 L358.86,381.36 L362.11,379.10 L365.37,376.85 L368.63,374.61 L371.91,372.38 L375.19,370.17 L378.49,367.96 L381.79,365.77 L385.10,363.59 L388.42,361.42 L391.75,359.26 L395.09,357.11 L398.44,354.97 L401.80,352.85 L405.16,350.73 L408.54,348.63 L411.92,346.53 L415.31,344.45 L418.71,342.38 L422.12,340.32 L425.53,338.27 L428.96,336.23 L432.39,334.20 L435.83,332.19 L439.28,330.18 L442.73,328.18 L446.20,326.20 L449.67,324.22 L453.15,322.26 L456.64,320.32 L460.14,318.39 L463.65,316.47 L467.17,314.56 L470.69,312.66 L474.22,310.77 L477.76,308.89 L481.30,307.02 L484.85,305.16 L488.41,303.32 L491.97,301.48 L495.55,299.65 L499.12,297.84 L502.71,296.03 L506.30,294.23 L509.90,292.45 L513.50,290.67 L517.11,288.91 L520.73,287.15 L524.35,285.41 L527.98,283.67 L531.61,281.95 L535.25,280.23 L538.90,278.53 L542.55,276.83 L546.21,275.15 L549.87,273.47 L553.54,271.81 L557.22,270.15 L560.90,268.51 L564.58,266.87 L568.28,265.25 L571.97,263.63 L575.67,262.02 L579.38,260.43 L583.09,258.84 L586.81,257.26 L590.53,255.69 L594.25,254.14 L597.99,252.59 L601.72,251.05 L605.46,249.52 L609.21,248.00 L612.95,246.49 L616.71,244.99 L620.46,243.49 L624.23,242.01 L627.99,240.54 L631.76,239.07 L635.54,237.62 L639.31,236.17 L643.10,234.74 L646.88,233.31 L650.67,231.89 L654.46,230.48 L658.26,229.08 L662.06,227.69 L665.86,226.31 L669.67,224.94 L673.48,223.57 L677.29,222.22 L681.11,220.87 L684.93,219.53 L688.75,218.21 L692.57,216.89 L696.40,215.58 L700.23,214.27 L704.07,212.98 L707.90,211.70 L711.74,210.42 L715.58,209.15 L719.43,207.89 L723.27,206.64 L727.12,205.40 L730.97,204.17 L734.82,202.94 L738.68,201.73 L742.53,200.52 L746.39,199.32 L750.25,198.13 L754.11,196.95 L757.98,195.77 L761.84,194.61 L765.71,193.45 L769.58,192.30 L773.45,191.16 L777.32,190.03 L781.19,188.90 L785.06,187.79 L788.94,186.68 L792.81,185.58 L796.69,184.48 L800.56,183.40 L804.44,182.32 L808.32,181.26 L812.20,180.19 L816.08,179.14 L819.96,178.10 L823.84,177.06 L827.72,176.03 L831.60,175.01 L835.49,174.00 L839.37,172.99 L843.25,171.99 L847.13,171.00 L851.01,170.02 L854.90,169.04 L858.78,168.07 L862.66,167.11 L866.54,166.16 L870.42,165.22 L874.30,164.28 L878.18,163.35 L882.06,162.42 L885.94,161.51 L889.81,160.60 L893.69,159.70 L897.57,158.81 L901.44,157.92 L905.31,157.04 L909.19,156.17 L913.06,155.30 L916.93,154.45 L920.80,153.59 L924.66,152.75 L928.53,151.91 L932.39,151.09 L936.25,150.26 L940.11,149.45 L943.97,148.64 L947.83,147.84 L951.68,147.04 L955.54,146.25 L959.39,145.47 L963.24,144.70 L967.08,143.93 L970.93,143.17 L974.77,142.42 L978.61,141.67 L982.44,140.93 L986.28,140.19 L990.11,139.47 L993.94,138.74 L997.76,138.03 L1001.59,137.32 L1005.40,136.60 L1015.43,134.74 L1004.96,39.26 L1008.44,38.88 L1019.26,137.59 L1006.05,140.05 L1002.23,140.76 L998.42,141.46 L994.59,142.18 L990.77,142.89 L986.94,143.62 L983.11,144.34 L979.28,145.08 L975.45,145.82 L971.61,146.57 L967.77,147.33 L963.93,148.09 L960.09,148.86 L956.24,149.64 L952.39,150.42 L948.54,151.21 L944.69,152.01 L940.84,152.81 L936.98,153.63 L933.12,154.44 L929.26,155.27 L925.40,156.10 L921.54,156.94 L917.68,157.79 L913.81,158.64 L909.95,159.50 L906.08,160.37 L902.21,161.24 L898.34,162.12 L894.47,163.01 L890.60,163.91 L886.73,164.81 L882.85,165.72 L878.98,166.64 L875.10,167.57 L871.23,168.50 L867.35,169.44 L863.48,170.39 L859.60,171.34 L855.73,172.31 L851.85,173.28 L847.97,174.25 L844.09,175.24 L840.22,176.23 L836.34,177.23 L832.46,178.24 L828.59,179.26 L824.71,180.28 L820.84,181.31 L816.96,182.35 L813.09,183.40 L809.21,184.46 L805.34,185.52 L801.47,186.59 L797.59,187.67 L793.72,188.76 L789.85,189.85 L785.98,190.96 L782.12,192.07 L778.25,193.19 L774.39,194.32 L770.52,195.45 L766.66,196.60 L762.80,197.75 L758.94,198.91 L755.08,200.08 L751.22,201.25 L747.37,202.44 L743.52,203.63 L739.67,204.84 L735.82,206.05 L731.97,207.27 L728.13,208.49 L724.28,209.73 L720.44,210.97 L716.61,212.23 L712.77,213.49 L708.94,214.76 L705.11,216.04 L701.28,217.33 L697.45,218.62 L693.63,219.93 L689.81,221.24 L686.00,222.56 L682.18,223.89 L678.37,225.24 L674.56,226.58 L670.76,227.94 L666.96,229.31 L663.16,230.69 L659.37,232.07 L655.58,233.46 L651.79,234.87 L648.01,236.28 L644.23,237.70 L640.45,239.13 L636.68,240.57 L632.91,242.02 L629.15,243.48 L625.39,244.95 L621.63,246.42 L617.88,247.91 L614.14,249.40 L610.39,250.91 L606.66,252.42 L602.92,253.95 L599.19,255.48 L595.47,257.02 L591.75,258.57 L588.03,260.13 L584.32,261.71 L580.62,263.29 L576.92,264.88 L573.22,266.48 L569.53,268.09 L565.85,269.70 L562.17,271.33 L558.50,272.97 L554.83,274.62 L551.16,276.28 L547.51,277.95 L543.86,279.63 L540.21,281.31 L536.57,283.01 L532.94,284.72 L529.31,286.44 L525.68,288.17 L522.07,289.90 L518.46,291.65 L514.86,293.41 L511.26,295.18 L507.67,296.96 L504.08,298.75 L500.51,300.55 L496.93,302.36 L493.37,304.17 L489.81,306.00 L486.26,307.84 L482.72,309.70 L479.18,311.56 L475.65,313.43 L472.13,315.31 L468.61,317.20 L465.10,319.11 L461.60,321.02 L458.11,322.94 L454.62,324.88 L451.15,326.83 L447.69,328.80 L444.23,330.78 L440.78,332.77 L437.34,334.78 L433.91,336.79 L430.49,338.81 L427.07,340.84 L423.67,342.89 L420.27,344.94 L416.88,347.01 L413.49,349.09 L410.12,351.18 L406.76,353.27 L403.40,355.38 L400.05,357.50 L396.71,359.64 L393.38,361.78 L390.06,363.93 L386.75,366.10 L383.45,368.27 L380.15,370.46 L376.87,372.66 L373.59,374.87 L370.32,377.09 L367.07,379.32 L363.82,381.56 L360.58,383.82 L357.35,386.08 L354.14,388.36 L350.93,390.65 L347.73,392.95 L344.54,395.26 L341.36,397.58 L338.19,399.92 L335.03,402.26 L331.89,404.62 L328.75,406.99 L325.62,409.37 L322.50,411.76 L319.40,414.17 L316.30,416.58 L313.21,419.01 L310.14,421.45 L307.07,423.90 L304.02,426.36 L300.98,428.83 L297.95,431.32 L294.93,433.82 L291.92,436.33 L288.92,438.85 L285.93,441.38 L282.96,443.93 L279.99,446.49 L277.04,449.06 L274.10,451.64 L271.17,454.23 L268.25,456.84 L265.35,459.46 L262.45,462.09 L259.57,464.73 L256.70,467.39 L253.84,470.05 L251.00,472.73 L248.16,475.42 L245.34,478.13 L242.53,480.85 L239.74,483.57 L236.95,486.32 L234.18,489.07 L231.42,491.84 L228.67,494.61 L225.94,497.41 L223.22,500.21 L220.51,503.03 L217.82,505.86 L215.14,508.70 L212.47,511.55 L209.81,514.42 L207.17,517.30 L204.54,520.19 L201.92,523.10 L199.32,526.02 L196.73,528.95 L194.16,531.89 L191.60,534.85 L189.05,537.82 L186.51,540.80 L183.99,543.80 L181.49,546.81 L179.00,549.83 L176.52,552.87 L174.05,555.92 L171.60,558.98 L169.17,562.05 L166.75,565.14 L164.34,568.24 L161.95,571.36 L159.57,574.49 L157.21,577.63 L154.86,580.78 L152.53,583.95 L150.21,587.13 L147.90,590.33 L145.62,593.54 L143.34,596.76 L141.08,599.99 L138.84,603.24 L136.61,606.51 L134.40,609.78 L132.20,613.07 L130.02,616.38 L127.85,619.69 L125.70,623.03 L123.57,626.37 L121.45,629.73 L119.35,633.10 L117.26,636.49 L115.19,639.89 L113.13,643.31 L111.09,646.73 L109.07,650.18 L107.06,653.63 L105.07,657.10 L103.10,660.59 L101.14,664.09 L99.20,667.60 L97.27,671.13 L95.37,674.67 L93.48,678.23 L91.60,681.80 L89.74,685.38 L87.90,688.98 L86.08,692.59 L84.27,696.22 L82.48,699.86 L80.71,703.52 L78.96,707.19 L77.22,710.88 L75.50,714.58 L73.80,718.29 L72.11,722.02 L70.44,725.77 L68.79,729.52 L67.16,733.30 L65.55,737.09 L63.95,740.89 L62.37,744.71 L60.81,748.56 Z" opacity="0.55" filter="url(#blur1)"/>
    <path d="M60.81,748.56 L62.37,744.71 L63.95,740.89 L65.55,737.09 L67.16,733.30 L68.79,729.52 L70.44,725.77 L72.11,722.02 L73.80,718.29 L75.50,714.58 L77.22,710.88 L78.96,707.19 L80.71,703.52 L82.48,699.86 L84.27,696.22 L86.08,692.59 L87.90,688.98 L89.74,685.38 L91.60,681.80 L93.48,678.23 L95.37,674.67 L97.27,671.13 L99.20,667.60 L101.14,664.09 L103.10,660.59 L105.07,657.10 L107.06,653.63 L109.07,650.18 L111.09,646.73 L113.13,643.31 L115.19,639.89 L117.26,636.49 L119.35,633.10 L121.45,629.73 L123.57,626.37 L125.70,623.03 L127.85,619.69 L130.02,616.38 L132.20,613.07 L134.40,609.78 L136.61,606.51 L138.84,603.24 L141.08,599.99 L143.34,596.76 L145.62,593.54 L147.90,590.33 L150.21,587.13 L152.53,583.95 L154.86,580.78 L157.21,577.63 L159.57,574.49 L161.95,571.36 L164.34,568.24 L166.75,565.14 L169.17,562.05 L171.60,558.98 L174.05,555.92 L176.52,552.87 L179.00,549.83 L181.49,546.81 L183.99,543.80 L186.51,540.80 L189.05,537.82 L191.60,534.85 L194.16,531.89 L196.73,528.95 L199.32,526.02 L201.92,523.10 L204.54,520.19 L207.17,517.30 L209.81,514.42 L212.47,511.55 L215.14,508.70 L217.82,505.86 L220.51,503.03 L223.22,500.21 L225.94,497.41 L228.67,494.61 L231.42,491.84 L234.18,489.07 L236.95,486.32 L239.74,483.57 L242.53,480.85 L245.34,478.13 L248.16,475.42 L251.00,472.73 L253.84,470.05 L256.70,467.39 L259.57,464.73 L262.45,462.09 L265.35,459.46 L268.25,456.84 L271.17,454.23 L274.10,451.64 L277.04,449.06 L279.99,446.49 L282.96,443.93 L285.93,441.38 L288.92,438.85 L291.92,436.33 L294.93,433.82 L297.95,431.32 L300.98,428.83 L304.02,426.36 L307.07,423.90 L310.14,421.45 L313.21,419.01 L316.30,416.58 L319.40,414.17 L322.50,411.76 L325.62,409.37 L328.75,406.99 L331.89,404.62 L335.03,402.26 L338.19,399.92 L341.36,397.58 L344.54,395.26 L347.73,392.95 L350.93,390.65 L354.14,388.36 L357.35,386.08 L360.58,383.82 L363.82,381.56 L367.07,379.32 L370.32,377.09 L373.59,374.87 L376.87,372.66 L380.15,370.46 L383.45,368.27 L386.75,366.10 L390.06,363.93 L393.38,361.78 L396.71,359.64 L400.05,357.50 L403.40,355.38 L406.76,353.27 L410.12,351.18 L413.49,349.09 L416.88,347.01 L420.27,344.94 L423.67,342.89 L427.07,340.84 L430.49,338.81 L433.91,336.79 L437.34,334.78 L440.78,332.77 L444.23,330.78 L447.69,328.80 L451.15,326.83 L454.62,324.88 L458.11,322.94 L461.60,321.02 L465.10,319.11 L468.61,317.20 L472.13,315.31 L475.65,313.43 L479.18,311.56 L482.72,309.70 L486.26,307.84 L489.81,306.00 L493.37,304.17 L496.93,302.36 L500.51,300.55 L504.08,298.75 L507.67,296.96 L511.26,295.18 L514.86,293.41 L518.46,291.65 L522.07,289.90 L525.68,288.17 L529.31,286.44 L532.94,284.72 L536.57,283.01 L540.21,281.31 L543.86,279.63 L547.51,277.95 L551.16,276.28 L554.83,274.62 L558.50,272.97 L562.17,271.33 L565.85,269.70 L569.53,268.09 L573.22,266.48 L576.92,264.88 L580.62,263.29 L584.32,261.71 L588.03,260.13 L591.75,258.57 L595.47,257.02 L599.19,255.48 L602.92,253.95 L606.66,252.42 L610.39,250.91 L614.14,249.40 L617.88,247.91 L621.63,246.42 L625.39,244.95 L629.15,243.48 L632.91,242.02 L636.68,240.57 L640.45,239.13 L644.23,237.70 L648.01,236.28 L651.79,234.87 L655.58,233.46 L659.37,232.07 L663.16,230.69 L666.96,229.31 L670.76,227.94 L674.56,226.58 L678.37,225.24 L682.18,223.89 L686.00,222.56 L689.81,221.24 L693.63,219.93 L697.45,218.62 L701.28,217.33 L705.11,216.04 L708.94,214.76 L712.77,213.49 L716.61,212.23 L720.44,210.97 L724.28,209.73 L728.13,208.49 L731.97,207.27 L735.82,206.05 L739.67,204.84 L743.52,203.63 L747.37,202.44 L751.22,201.25 L755.08,200.08 L758.94,198.91 L762.80,197.75 L766.66,196.60 L770.52,195.45 L774.39,194.32 L778.25,193.19 L782.12,192.07 L785.98,190.96 L789.85,189.85 L793.72,188.76 L797.59,187.67 L801.47,186.59 L805.34,185.52 L809.21,184.46 L813.09,183.40 L816.96,182.35 L820.84,181.31 L824.71,180.28 L828.59,179.26 L832.46,178.24 L836.34,177.23 L840.22,176.23 L844.09,175.24 L847.97,174.25 L851.85,173.28 L855.73,172.31 L859.60,171.34 L863.48,170.39 L867.35,169.44 L871.23,168.50 L875.10,167.57 L878.98,166.64 L882.85,165.72 L886.73,164.81 L890.60,163.91 L894.47,163.01 L898.34,162.12 L902.21,161.24 L906.08,160.37 L909.95,159.50 L913.81,158.64 L917.68,157.79 L921.54,156.94 L925.40,156.10 L929.26,155.27 L933.12,154.44 L936.98,153.63 L940.84,152.81 L944.69,152.01 L948.54,151.21 L952.39,150.42 L956.24,149.64 L960.09,148.86 L963.93,148.09 L967.77,147.33 L971.61,146.57 L975.45,145.82 L979.28,145.08 L983.11,144.34 L986.94,143.62 L990.77,142.89 L994.59,142.18 L998.42,141.46 L1002.23,140.76 L1006.05,140.05 L1019.26,137.59 L1008.44,38.88 L1011.92,38.50 L1023.10,140.44 L1006.69,143.49 L1002.88,144.20 L999.07,144.90 L995.25,145.61 L991.43,146.32 L987.61,147.04 L983.78,147.76 L979.96,148.49 L976.13,149.23 L972.29,149.98 L968.46,150.73 L964.62,151.49 L960.78,152.25 L956.94,153.03 L953.10,153.81 L949.25,154.59 L945.41,155.38 L941.56,156.18 L937.71,156.99 L933.85,157.80 L930.00,158.62 L926.14,159.45 L922.29,160.28 L918.43,161.13 L914.57,161.97 L910.71,162.83 L906.84,163.69 L902.98,164.56 L899.11,165.44 L895.25,166.32 L891.38,167.21 L887.51,168.11 L883.65,169.02 L879.78,169.93 L875.91,170.85 L872.04,171.78 L868.17,172.72 L864.30,173.66 L860.43,174.61 L856.55,175.57 L852.68,176.53 L848.81,177.51 L844.94,178.49 L841.07,179.48 L837.20,180.47 L833.32,181.48 L829.45,182.49 L825.58,183.51 L821.71,184.53 L817.84,185.57 L813.97,186.61 L810.10,187.66 L806.24,188.72 L802.37,189.78 L798.50,190.86 L794.64,191.94 L790.77,193.03 L786.91,194.13 L783.05,195.24 L779.18,196.35 L775.32,197.47 L771.47,198.60 L767.61,199.74 L763.75,200.89 L759.90,202.04 L756.05,203.21 L752.20,204.38 L748.35,205.56 L744.50,206.75 L740.65,207.94 L736.81,209.15 L732.97,210.36 L729.13,211.58 L725.29,212.81 L721.46,214.05 L717.63,215.30 L713.80,216.56 L709.97,217.82 L706.15,219.10 L702.32,220.38 L698.50,221.67 L694.69,222.97 L690.87,224.28 L687.06,225.59 L683.26,226.92 L679.45,228.25 L675.65,229.60 L671.85,230.95 L668.06,232.31 L664.27,233.68 L660.48,235.06 L656.69,236.45 L652.91,237.84 L649.14,239.25 L645.36,240.67 L641.59,242.09 L637.83,243.52 L634.07,244.97 L630.31,246.42 L626.55,247.88 L622.80,249.35 L619.06,250.83 L615.32,252.32 L611.58,253.82 L607.85,255.33 L604.12,256.84 L600.40,258.37 L596.68,259.91 L592.97,261.45 L589.26,263.01 L585.56,264.57 L581.86,266.14 L578.16,267.73 L574.47,269.32 L570.79,270.93 L567.11,272.54 L563.44,274.16 L559.77,275.79 L556.11,277.43 L552.45,279.09 L548.80,280.75 L545.16,282.42 L541.52,284.10 L537.89,285.79 L534.26,287.49 L530.64,289.20 L527.02,290.93 L523.41,292.66 L519.81,294.40 L516.21,296.15 L512.62,297.91 L509.04,299.68 L505.46,301.46 L501.89,303.26 L498.32,305.06 L494.76,306.87 L491.21,308.69 L487.67,310.53 L484.13,312.37 L480.60,314.22 L477.08,316.09 L473.56,317.96 L470.05,319.85 L466.55,321.74 L463.06,323.65 L459.57,325.57 L456.09,327.49 L452.63,329.44 L449.17,331.41 L445.73,333.38 L442.29,335.37 L438.86,337.37 L435.43,339.37 L432.02,341.39 L428.61,343.42 L425.21,345.46 L421.82,347.51 L418.44,349.57 L415.07,351.64 L411.70,353.72 L408.35,355.82 L405.00,357.92 L401.66,360.04 L398.33,362.16 L395.01,364.30 L391.70,366.45 L388.39,368.61 L385.10,370.78 L381.81,372.96 L378.54,375.15 L375.27,377.35 L372.02,379.57 L368.77,381.79 L365.53,384.03 L362.30,386.28 L359.08,388.54 L355.87,390.81 L352.67,393.09 L349.48,395.38 L346.31,397.69 L343.14,400.00 L339.98,402.33 L336.83,404.67 L333.69,407.02 L330.56,409.38 L327.44,411.75 L324.33,414.14 L321.24,416.53 L318.15,418.94 L315.07,421.36 L312.01,423.79 L308.95,426.24 L305.91,428.69 L302.88,431.16 L299.85,433.64 L296.84,436.13 L293.84,438.63 L290.86,441.14 L287.88,443.67 L284.91,446.20 L281.96,448.75 L279.02,451.32 L276.08,453.89 L273.16,456.47 L270.26,459.07 L267.36,461.68 L264.48,464.30 L261.60,466.94 L258.74,469.58 L255.89,472.24 L253.06,474.91 L250.23,477.59 L247.42,480.29 L244.62,483.00 L241.84,485.72 L239.06,488.45 L236.30,491.19 L233.55,493.95 L230.81,496.72 L228.09,499.50 L225.38,502.29 L222.68,505.10 L219.99,507.92 L217.32,510.75 L214.66,513.60 L212.02,516.45 L209.38,519.32 L206.76,522.21 L204.16,525.10 L201.56,528.01 L198.99,530.93 L196.42,533.86 L193.87,536.81 L191.33,539.77 L188.81,542.74 L186.29,545.73 L183.80,548.72 L181.31,551.74 L178.85,554.76 L176.39,557.80 L173.95,560.85 L171.52,563.91 L169.11,566.99 L166.72,570.08 L164.33,573.18 L161.96,576.30 L159.61,579.43 L157.27,582.57 L154.95,585.72 L152.64,588.89 L150.34,592.08 L148.06,595.27 L145.80,598.48 L143.55,601.70 L141.31,604.94 L139.09,608.19 L136.89,611.46 L134.70,614.73 L132.53,618.02 L130.37,621.33 L128.23,624.65 L126.10,627.98 L123.99,631.32 L121.90,634.68 L119.82,638.06 L117.75,641.44 L115.71,644.85 L113.68,648.26 L111.66,651.69 L109.66,655.13 L107.68,658.59 L105.71,662.06 L103.76,665.55 L101.83,669.05 L99.91,672.56 L98.01,676.09 L96.13,679.63 L94.26,683.18 L92.41,686.75 L90.58,690.34 L88.76,693.94 L86.96,697.55 L85.18,701.18 L83.41,704.82 L81.67,708.48 L79.94,712.15 L78.22,715.83 L76.53,719.53 L74.85,723.25 L73.19,726.98 L71.54,730.72 L69.92,734.48 L68.31,738.26 L66.72,742.04 L65.15,745.85 L63.59,749.69 Z" opacity="0.22" filter="url(#blur1)"/>
    </g>
    <path d="M53.35,745.43 L55.82,742.14 L58.29,738.86 L60.78,735.60 L63.29,732.35 L65.80,729.12 L68.33,725.91 L70.87,722.71 L73.43,719.52 L75.99,716.35 L78.57,713.19 L81.17,710.05 L83.77,706.93 L86.39,703.82 L89.02,700.72 L91.66,697.64 L94.31,694.58 L96.98,691.52 L99.65,688.49 L102.34,685.47 L105.05,682.46 L107.76,679.47 L110.49,676.49 L113.22,673.53 L115.97,670.58 L118.73,667.64 L121.51,664.72 L124.29,661.82 L127.09,658.93 L129.89,656.05 L132.71,653.19 L135.54,650.34 L138.38,647.51 L141.23,644.69 L144.10,641.89 L146.97,639.10 L149.86,636.32 L152.76,633.56 L155.66,630.81 L158.58,628.08 L161.51,625.36 L164.45,622.65 L167.40,619.96 L170.37,617.28 L173.34,614.62 L176.32,611.97 L179.32,609.33 L182.32,606.71 L185.34,604.10 L188.36,601.50 L191.40,598.92 L194.44,596.36 L197.50,593.80 L200.56,591.26 L203.64,588.74 L206.72,586.22 L209.82,583.72 L212.93,581.24 L216.04,578.76 L219.17,576.31 L222.30,573.86 L225.45,571.43 L228.60,569.01 L231.77,566.60 L234.94,564.21 L238.12,561.83 L241.31,559.47 L244.52,557.11 L247.73,554.77 L250.95,552.45 L254.18,550.13 L257.42,547.83 L260.66,545.55 L263.92,543.27 L267.19,541.01 L270.46,538.76 L273.74,536.53 L277.04,534.30 L280.34,532.09 L283.65,529.90 L286.96,527.71 L290.29,525.54 L293.63,523.38 L296.97,521.24 L300.32,519.10 L303.68,516.98 L307.05,514.87 L310.43,512.78 L313.81,510.69 L317.21,508.62 L320.61,506.56 L324.02,504.52 L327.43,502.48 L330.86,500.46 L334.29,498.45 L337.73,496.46 L341.18,494.47 L344.63,492.50 L348.10,490.54 L351.57,488.59 L355.05,486.66 L358.53,484.73 L362.03,482.82 L365.53,480.92 L369.04,479.03 L372.55,477.16 L376.07,475.29 L379.60,473.44 L383.14,471.60 L386.68,469.77 L390.23,467.95 L393.79,466.15 L397.35,464.36 L400.92,462.57 L404.50,460.80 L408.09,459.05 L411.68,457.30 L415.27,455.56 L418.88,453.84 L422.49,452.13 L426.10,450.43 L429.73,448.74 L433.35,447.06 L436.99,445.39 L440.63,443.74 L444.28,442.10 L447.93,440.46 L451.59,438.84 L455.26,437.23 L458.93,435.63 L462.60,434.04 L466.29,432.47 L469.98,430.90 L473.67,429.35 L477.37,427.80 L481.07,426.27 L484.78,424.75 L488.50,423.24 L492.22,421.74 L495.95,420.25 L499.68,418.77 L503.42,417.30 L507.16,415.85 L510.91,414.40 L514.66,412.96 L518.42,411.54 L522.18,410.13 L525.94,408.72 L529.72,407.33 L533.49,405.95 L537.27,404.57 L541.06,403.21 L544.85,401.86 L548.64,400.52 L552.44,399.19 L556.25,397.87 L560.05,396.56 L563.87,395.26 L567.68,393.97 L571.50,392.69 L575.33,391.42 L579.16,390.16 L582.99,388.92 L586.83,387.68 L590.67,386.45 L594.51,385.23 L598.36,384.02 L602.21,382.82 L606.07,381.63 L609.93,380.45 L613.79,379.28 L617.66,378.12 L621.53,376.98 L625.40,375.84 L629.27,374.71 L633.15,373.58 L637.04,372.47 L640.92,371.37 L644.81,370.28 L648.70,369.20 L652.60,368.13 L656.50,367.06 L660.40,366.01 L664.30,364.96 L668.21,363.93 L672.12,362.90 L676.03,361.89 L679.94,360.88 L683.86,359.88 L687.78,358.89 L691.70,357.92 L695.63,356.95 L699.55,355.98 L703.48,355.03 L707.41,354.09 L711.35,353.16 L715.28,352.23 L719.22,351.31 L723.16,350.41 L727.10,349.51 L731.04,348.62 L734.99,347.74 L738.93,346.87 L742.88,346.01 L746.83,345.15 L750.78,344.31 L754.74,343.47 L758.69,342.64 L762.65,341.82 L766.60,341.01 L770.56,340.21 L774.52,339.41 L778.48,338.63 L782.45,337.85 L786.41,337.08 L790.37,336.32 L794.34,335.57 L798.30,334.83 L802.27,334.09 L806.24,333.37 L810.21,332.65 L814.18,331.94 L818.15,331.23 L822.12,330.54 L826.09,329.85 L830.06,329.17 L834.03,328.50 L838.00,327.84 L841.98,327.19 L845.95,326.54 L849.92,325.90 L853.89,325.27 L857.87,324.65 L861.84,324.03 L865.81,323.43 L869.79,322.83 L873.76,322.24 L877.73,321.65 L881.70,321.07 L885.67,320.51 L889.65,319.94 L893.62,319.39 L897.59,318.84 L901.56,318.31 L905.53,317.77 L909.50,317.25 L913.46,316.73 L917.43,316.22 L921.40,315.72 L925.36,315.23 L929.33,314.74 L933.29,314.26 L937.25,313.79 L941.21,313.32 L945.17,312.86 L949.13,312.41 L953.09,311.96 L957.05,311.53 L961.00,311.10 L964.95,310.67 L968.91,310.25 L972.86,309.84 L976.81,309.44 L980.75,309.04 L984.70,308.66 L988.64,308.27 L992.58,307.90 L996.52,307.53 L1000.46,307.16 L1004.40,306.81 L1008.33,306.46 L1012.26,306.12 L1016.19,305.78 L1020.12,305.45 L1024.04,305.13 L1027.97,304.81 L1027.76,302.32 L1023.84,302.63 L1019.91,302.96 L1015.98,303.29 L1012.05,303.62 L1008.11,303.97 L1004.17,304.32 L1000.23,304.67 L996.29,305.04 L992.35,305.41 L988.40,305.78 L984.45,306.17 L980.51,306.56 L976.55,306.95 L972.60,307.36 L968.65,307.77 L964.69,308.19 L960.73,308.61 L956.77,309.04 L952.81,309.48 L948.85,309.92 L944.89,310.38 L940.92,310.84 L936.96,311.30 L932.99,311.78 L929.02,312.26 L925.05,312.75 L921.08,313.24 L917.11,313.74 L913.14,314.25 L909.17,314.77 L905.20,315.30 L901.22,315.83 L897.25,316.37 L893.27,316.91 L889.30,317.47 L885.32,318.03 L881.35,318.60 L877.37,319.18 L873.39,319.76 L869.41,320.35 L865.44,320.95 L861.46,321.56 L857.48,322.18 L853.50,322.80 L849.53,323.43 L845.55,324.07 L841.57,324.72 L837.59,325.38 L833.62,326.04 L829.64,326.71 L825.66,327.39 L821.69,328.08 L817.71,328.77 L813.74,329.47 L809.76,330.19 L805.79,330.91 L801.82,331.63 L797.85,332.37 L793.87,333.11 L789.90,333.87 L785.94,334.63 L781.97,335.40 L778.00,336.18 L774.03,336.96 L770.07,337.76 L766.10,338.56 L762.14,339.37 L758.18,340.19 L754.22,341.02 L750.26,341.86 L746.31,342.71 L742.35,343.56 L738.40,344.43 L734.45,345.30 L730.49,346.18 L726.55,347.07 L722.60,347.97 L718.65,348.88 L714.71,349.80 L710.77,350.72 L706.83,351.66 L702.90,352.60 L698.96,353.56 L695.03,354.52 L691.10,355.49 L687.17,356.47 L683.25,357.46 L679.32,358.46 L675.40,359.47 L671.49,360.49 L667.57,361.51 L663.66,362.55 L659.75,363.59 L655.84,364.65 L651.94,365.71 L648.04,366.79 L644.14,367.87 L640.24,368.97 L636.35,370.07 L632.46,371.18 L628.58,372.30 L624.70,373.44 L620.82,374.58 L616.94,375.73 L613.07,376.89 L609.20,378.06 L605.33,379.24 L601.47,380.43 L597.61,381.63 L593.76,382.84 L589.91,384.07 L586.06,385.30 L582.22,386.54 L578.38,387.79 L574.54,389.05 L570.71,390.32 L566.89,391.60 L563.06,392.89 L559.24,394.19 L555.43,395.51 L551.62,396.83 L547.81,398.16 L544.01,399.51 L540.22,400.86 L536.42,402.22 L532.64,403.60 L528.85,404.98 L525.07,406.38 L521.30,407.78 L517.53,409.20 L513.77,410.63 L510.01,412.07 L506.26,413.51 L502.51,414.97 L498.76,416.44 L495.02,417.93 L491.29,419.42 L487.56,420.92 L483.84,422.43 L480.12,423.96 L476.41,425.49 L472.70,427.04 L469.00,428.60 L465.31,430.17 L461.62,431.75 L457.93,433.34 L454.25,434.94 L450.58,436.55 L446.92,438.18 L443.25,439.81 L439.60,441.46 L435.95,443.12 L432.31,444.79 L428.67,446.47 L425.04,448.16 L421.42,449.87 L417.80,451.58 L414.19,453.31 L410.59,455.05 L406.99,456.80 L403.40,458.56 L399.81,460.34 L396.23,462.12 L392.66,463.92 L389.10,465.73 L385.54,467.55 L381.99,469.38 L378.44,471.22 L374.91,473.08 L371.38,474.95 L367.85,476.83 L364.34,478.72 L360.83,480.62 L357.33,482.54 L353.84,484.47 L350.35,486.41 L346.87,488.36 L343.40,490.33 L339.94,492.30 L336.48,494.29 L333.03,496.29 L329.59,498.31 L326.16,500.33 L322.73,502.37 L319.32,504.42 L315.91,506.49 L312.51,508.56 L309.11,510.65 L305.73,512.75 L302.35,514.87 L298.98,516.99 L295.62,519.13 L292.27,521.28 L288.93,523.45 L285.59,525.62 L282.27,527.81 L278.95,530.01 L275.64,532.23 L272.34,534.46 L269.05,536.70 L265.77,538.95 L262.49,541.22 L259.23,543.50 L255.97,545.79 L252.73,548.10 L249.49,550.42 L246.26,552.75 L243.04,555.10 L239.83,557.45 L236.63,559.83 L233.44,562.21 L230.26,564.61 L227.08,567.02 L223.92,569.45 L220.77,571.89 L217.63,574.34 L214.49,576.80 L211.37,579.28 L208.25,581.77 L205.15,584.28 L202.06,586.80 L198.97,589.33 L195.90,591.88 L192.83,594.44 L189.78,597.01 L186.74,599.60 L183.70,602.20 L180.68,604.82 L177.67,607.45 L174.67,610.09 L171.68,612.75 L168.69,615.42 L165.72,618.11 L162.76,620.81 L159.82,623.52 L156.88,626.25 L153.95,628.99 L151.04,631.74 L148.13,634.51 L145.24,637.30 L142.35,640.10 L139.48,642.91 L136.62,645.74 L133.77,648.58 L130.93,651.43 L128.11,654.30 L125.29,657.19 L122.49,660.08 L119.70,663.00 L116.92,665.93 L114.15,668.87 L111.39,671.83 L108.64,674.80 L105.91,677.78 L103.19,680.78 L100.48,683.80 L97.78,686.83 L95.10,689.88 L92.42,692.94 L89.76,696.01 L87.11,699.10 L84.48,702.20 L81.85,705.32 L79.24,708.46 L76.64,711.61 L74.06,714.77 L71.48,717.95 L68.92,721.15 L66.37,724.36 L63.83,727.58 L61.31,730.82 L58.80,734.08 L56.30,737.35 L53.82,740.64 L51.35,743.93 Z" fill="url(#ll)" filter="url(#blur2)"/>
    <path d="M53.58,745.62 L55.16,741.75 L56.75,737.89 L58.36,734.05 L59.99,730.22 L61.64,726.41 L63.31,722.61 L64.99,718.83 L66.70,715.06 L68.42,711.31 L70.15,707.57 L71.91,703.85 L73.68,700.14 L75.47,696.44 L77.28,692.76 L79.11,689.10 L80.95,685.45 L82.81,681.81 L84.68,678.19 L86.58,674.58 L88.49,670.99 L90.42,667.41 L92.36,663.85 L94.32,660.30 L96.30,656.76 L98.30,653.24 L100.31,649.73 L102.33,646.24 L104.38,642.76 L106.44,639.30 L108.52,635.85 L110.61,632.41 L112.72,628.99 L114.84,625.59 L116.98,622.19 L119.14,618.81 L121.31,615.45 L123.50,612.10 L125.70,608.76 L127.92,605.43 L130.16,602.12 L132.41,598.83 L134.68,595.55 L136.96,592.28 L139.25,589.02 L141.57,585.78 L143.89,582.55 L146.23,579.34 L148.59,576.14 L150.96,572.95 L153.35,569.78 L155.75,566.62 L158.17,563.48 L160.60,560.34 L163.04,557.23 L165.50,554.12 L167.97,551.03 L170.46,547.95 L172.97,544.89 L175.48,541.83 L178.01,538.79 L180.56,535.77 L183.12,532.76 L185.69,529.76 L188.27,526.77 L190.87,523.80 L193.49,520.84 L196.11,517.89 L198.75,514.96 L201.41,512.04 L204.08,509.13 L206.76,506.24 L209.45,503.36 L212.16,500.49 L214.88,497.63 L217.61,494.79 L220.36,491.96 L223.11,489.14 L225.89,486.34 L228.67,483.55 L231.47,480.77 L234.28,478.00 L237.10,475.25 L239.93,472.51 L242.78,469.78 L245.64,467.07 L248.51,464.36 L251.39,461.67 L254.29,458.99 L257.19,456.33 L260.11,453.67 L263.04,451.03 L265.99,448.40 L268.94,445.79 L271.91,443.18 L274.89,440.59 L277.87,438.01 L280.87,435.45 L283.89,432.89 L286.91,430.35 L289.94,427.82 L292.99,425.30 L296.04,422.79 L299.11,420.30 L302.19,417.82 L305.28,415.35 L308.38,412.89 L311.49,410.44 L314.61,408.01 L317.74,405.58 L320.88,403.17 L324.04,400.77 L327.20,398.39 L330.37,396.01 L333.55,393.65 L336.75,391.29 L339.95,388.95 L343.16,386.62 L346.39,384.31 L349.62,382.00 L352.86,379.71 L356.11,377.43 L359.38,375.15 L362.65,372.89 L365.93,370.65 L369.22,368.41 L372.52,366.18 L375.82,363.97 L379.14,361.77 L382.47,359.58 L385.80,357.40 L389.15,355.23 L392.50,353.07 L395.87,350.92 L399.24,348.79 L402.62,346.66 L406.00,344.55 L409.40,342.45 L412.81,340.36 L416.22,338.28 L419.64,336.21 L423.07,334.15 L426.51,332.10 L429.95,330.07 L433.41,328.04 L436.87,326.03 L440.34,324.02 L443.82,322.03 L447.30,320.05 L450.80,318.08 L454.30,316.11 L457.81,314.16 L461.32,312.22 L464.84,310.30 L468.37,308.38 L471.91,306.47 L475.45,304.57 L479.01,302.69 L482.56,300.81 L486.13,298.94 L489.70,297.09 L493.28,295.24 L496.87,293.41 L500.46,291.58 L504.06,289.77 L507.66,287.96 L511.27,286.17 L514.89,284.39 L518.51,282.61 L522.14,280.85 L525.78,279.10 L529.42,277.35 L533.07,275.62 L536.73,273.90 L540.39,272.18 L544.05,270.48 L547.72,268.79 L551.40,267.11 L555.08,265.43 L558.77,263.77 L562.46,262.11 L566.16,260.47 L569.86,258.84 L573.57,257.21 L577.29,255.60 L581.01,253.99 L584.73,252.40 L588.46,250.81 L592.19,249.24 L595.93,247.67 L599.67,246.11 L603.42,244.56 L607.17,243.03 L610.93,241.50 L614.69,239.98 L618.46,238.47 L622.23,236.97 L626.00,235.48 L629.78,233.99 L633.56,232.52 L637.34,231.06 L641.13,229.60 L644.93,228.16 L648.72,226.72 L652.52,225.30 L656.33,223.88 L660.14,222.47 L663.95,221.07 L667.76,219.68 L671.58,218.30 L675.40,216.93 L679.22,215.56 L683.05,214.21 L686.88,212.86 L690.71,211.53 L694.55,210.20 L698.39,208.88 L702.23,207.57 L706.07,206.27 L709.92,204.97 L713.77,203.69 L717.62,202.41 L721.47,201.14 L725.33,199.89 L729.18,198.64 L733.04,197.39 L736.91,196.16 L740.77,194.94 L744.64,193.72 L748.50,192.51 L752.37,191.31 L756.24,190.12 L760.12,188.94 L763.99,187.76 L767.87,186.60 L771.74,185.44 L775.62,184.29 L779.50,183.15 L783.38,182.01 L787.26,180.89 L791.15,179.77 L795.03,178.66 L798.92,177.56 L802.80,176.47 L806.69,175.38 L810.57,174.30 L814.46,173.23 L818.35,172.17 L822.24,171.12 L826.13,170.07 L830.02,169.03 L833.91,168.00 L837.79,166.98 L841.68,165.97 L845.57,164.96 L849.46,163.96 L853.35,162.97 L857.24,161.98 L861.13,161.01 L865.02,160.04 L868.91,159.08 L872.80,158.12 L876.68,157.18 L880.57,156.24 L884.45,155.30 L888.34,154.38 L892.22,153.46 L896.11,152.55 L899.99,151.65 L903.87,150.75 L907.75,149.87 L911.63,148.98 L915.50,148.11 L919.38,147.24 L923.26,146.38 L927.13,145.53 L931.00,144.69 L934.87,143.85 L938.74,143.02 L942.60,142.19 L946.47,141.37 L950.33,140.56 L954.19,139.76 L958.05,138.96 L961.90,138.17 L965.76,137.39 L969.61,136.61 L973.46,135.84 L977.31,135.08 L981.15,134.32 L984.99,133.57 L988.83,132.83 L992.67,132.09 L996.50,131.36 L1000.33,130.64 L1004.16,129.92 L1007.98,129.21 L1008.89,134.13 L1005.07,134.84 L1001.25,135.55 L997.43,136.27 L993.61,137.00 L989.78,137.74 L985.95,138.48 L982.11,139.23 L978.28,139.98 L974.44,140.74 L970.59,141.51 L966.75,142.29 L962.90,143.07 L959.06,143.86 L955.21,144.65 L951.35,145.46 L947.50,146.27 L943.64,147.08 L939.78,147.90 L935.92,148.73 L932.06,149.57 L928.20,150.42 L924.33,151.27 L920.47,152.12 L916.60,152.99 L912.73,153.86 L908.86,154.74 L904.99,155.63 L901.12,156.52 L897.24,157.42 L893.37,158.33 L889.49,159.24 L885.62,160.17 L881.74,161.10 L877.86,162.03 L873.98,162.98 L870.10,163.93 L866.22,164.89 L862.34,165.86 L858.46,166.83 L854.58,167.81 L850.70,168.80 L846.82,169.80 L842.94,170.81 L839.06,171.82 L835.18,172.84 L831.30,173.87 L827.42,174.90 L823.54,175.95 L819.66,177.00 L815.78,178.06 L811.91,179.12 L808.03,180.20 L804.15,181.28 L800.27,182.37 L796.40,183.47 L792.52,184.58 L788.65,185.69 L784.78,186.81 L780.91,187.94 L777.04,189.08 L773.17,190.23 L769.30,191.39 L765.44,192.55 L761.57,193.72 L757.71,194.90 L753.85,196.09 L749.99,197.29 L746.13,198.49 L742.28,199.70 L738.42,200.92 L734.57,202.15 L730.72,203.39 L726.87,204.64 L723.03,205.90 L719.18,207.16 L715.34,208.43 L711.51,209.71 L707.67,211.00 L703.84,212.30 L700.01,213.61 L696.18,214.92 L692.35,216.25 L688.53,217.58 L684.71,218.92 L680.90,220.27 L677.08,221.63 L673.27,223.00 L669.47,224.38 L665.66,225.77 L661.86,227.16 L658.07,228.57 L654.28,229.98 L650.49,231.40 L646.70,232.83 L642.92,234.27 L639.14,235.72 L635.37,237.18 L631.60,238.65 L627.83,240.13 L624.07,241.62 L620.31,243.11 L616.56,244.62 L612.81,246.13 L609.06,247.65 L605.32,249.19 L601.59,250.73 L597.86,252.28 L594.13,253.84 L590.41,255.42 L586.69,257.00 L582.98,258.59 L579.28,260.19 L575.57,261.79 L571.88,263.41 L568.19,265.04 L564.50,266.68 L560.82,268.33 L557.14,269.99 L553.47,271.65 L549.81,273.33 L546.15,275.02 L542.50,276.72 L538.85,278.42 L535.21,280.14 L531.57,281.87 L527.95,283.60 L524.32,285.35 L520.71,287.11 L517.09,288.87 L513.49,290.65 L509.89,292.44 L506.30,294.24 L502.72,296.04 L499.14,297.86 L495.56,299.69 L492.00,301.53 L488.44,303.38 L484.89,305.24 L481.35,307.10 L477.81,308.98 L474.28,310.87 L470.75,312.77 L467.24,314.69 L463.73,316.61 L460.23,318.54 L456.73,320.48 L453.25,322.43 L449.77,324.40 L446.30,326.37 L442.83,328.36 L439.38,330.35 L435.93,332.36 L432.49,334.38 L429.06,336.40 L425.64,338.44 L422.22,340.49 L418.81,342.55 L415.41,344.62 L412.02,346.70 L408.64,348.80 L405.27,350.90 L401.90,353.02 L398.55,355.14 L395.20,357.28 L391.86,359.43 L388.53,361.59 L385.21,363.76 L381.90,365.94 L378.60,368.13 L375.30,370.33 L372.02,372.55 L368.75,374.78 L365.48,377.01 L362.22,379.26 L358.98,381.52 L355.74,383.79 L352.51,386.08 L349.30,388.37 L346.09,390.68 L342.89,393.00 L339.71,395.33 L336.53,397.67 L333.36,400.02 L330.20,402.38 L327.06,404.76 L323.92,407.14 L320.79,409.54 L317.68,411.95 L314.57,414.38 L311.48,416.81 L308.39,419.26 L305.32,421.71 L302.26,424.18 L299.21,426.67 L296.17,429.16 L293.14,431.66 L290.12,434.18 L287.11,436.71 L284.12,439.25 L281.13,441.81 L278.16,444.37 L275.20,446.95 L272.25,449.54 L269.31,452.14 L266.38,454.76 L263.47,457.38 L260.57,460.02 L257.67,462.67 L254.80,465.33 L251.93,468.01 L249.07,470.70 L246.23,473.40 L243.40,476.11 L240.58,478.84 L237.78,481.57 L234.98,484.32 L232.20,487.09 L229.43,489.86 L226.68,492.65 L223.94,495.45 L221.21,498.27 L218.49,501.09 L215.79,503.93 L213.09,506.78 L210.42,509.65 L207.75,512.52 L205.10,515.41 L202.46,518.32 L199.84,521.23 L197.23,524.16 L194.63,527.10 L192.05,530.06 L189.47,533.02 L186.92,536.00 L184.38,539.00 L181.85,542.00 L179.33,545.02 L176.83,548.06 L174.34,551.10 L171.87,554.16 L169.41,557.23 L166.97,560.32 L164.54,563.42 L162.12,566.53 L159.72,569.66 L157.34,572.80 L154.97,575.95 L152.61,579.12 L150.27,582.30 L147.94,585.49 L145.63,588.70 L143.33,591.92 L141.05,595.15 L138.78,598.40 L136.53,601.66 L134.30,604.93 L132.08,608.22 L129.87,611.52 L127.68,614.84 L125.51,618.17 L123.35,621.51 L121.20,624.87 L119.08,628.24 L116.97,631.63 L114.87,635.03 L112.79,638.44 L110.73,641.87 L108.68,645.31 L106.65,648.76 L104.64,652.23 L102.64,655.72 L100.66,659.22 L98.69,662.73 L96.74,666.25 L94.81,669.79 L92.90,673.35 L91.00,676.92 L89.12,680.50 L87.25,684.10 L85.41,687.71 L83.58,691.34 L81.76,694.98 L79.97,698.64 L78.19,702.31 L76.43,705.99 L74.68,709.69 L72.96,713.40 L71.25,717.13 L69.56,720.88 L67.88,724.63 L66.23,728.41 L64.59,732.19 L62.97,736.00 L61.37,739.81 L59.78,743.65 L58.21,747.51 Z" fill="url(#hlA)" filter="url(#blur1)"/>
    <g fill="#fff">
    <path d="M1030.00,302.64 L1040.98,392.02 L1043.46,391.71 L1032.19,299.95 Z" filter="url(#blur2)"/>
    <path d="M1032.19,299.95 L1043.46,391.71 L1046.14,391.39 L1034.56,297.05 Z" opacity="0.55" filter="url(#blur1)"/>
    <path d="M1034.56,297.05 L1046.14,391.39 L1049.12,391.02 L1037.18,293.82 Z" opacity="0.22" filter="url(#blur1)"/>
    </g>
    <path d="M996.87,41.75 L1183.17,182.95 L1181.48,185.18 L995.18,43.98 Z" fill="#F3CCC4" opacity="0.45" filter="url(#blur1)"/>
    <path d="M998.80,39.20 L1185.10,180.40 L1183.53,182.48 L997.23,41.28 Z" fill="#FFEAE4" opacity="0.6" filter="url(#blur2)"/>
    <path d="M1183.76,180.69 L1037.96,391.79 L1037.05,391.16 L1182.85,180.06 Z" fill="#fff" filter="url(#blur2)"/>
  </g>
  
  <g transform="translate(178.5 578.0) scale(13.3)">
    <clipPath id="soc"><circle cx="0" cy="0" r="1"/></clipPath>
    <circle cx="0" cy="0" r="1" fill="url(#sob)"/>
    <circle cx="0" cy="0" r="1" fill="url(#soe)"/>
    <g clip-path="url(#soc)">
      <path d="M-0.25,-0.85 L0.2,-0.85 L0.02,-0.05 Z" fill="#FFD0A0" opacity="0.8" filter="url(#sof1)"/>
      
      <path d="M-0.7,0.4 L-0.05,0.12 L-0.1,0.52 L-0.55,0.55 Z" fill="#FFF8DC" filter="url(#sof2)"/>
      <path d="M0.616,-0.287 A0.68,0.68 0 0 1 0.639,0.233" fill="none" stroke="#FFF6D0" stroke-width="0.3" stroke-linecap="round" opacity="0.0" filter="url(#sof3)"/>
      <ellipse cx="0.52" cy="-0.05" rx="0.2" ry="0.38" fill="#FFF8D0" filter="url(#sof3)"/>
    </g>
  </g>
  <g transform="translate(371.5 423.8) scale(23.1)">
    <clipPath id="sgc"><circle cx="0" cy="0" r="1"/></clipPath>
    <circle cx="0" cy="0" r="1" fill="url(#sgb)"/>
    <circle cx="0" cy="0" r="1" fill="url(#sge)"/>
    <g clip-path="url(#sgc)">
      <path d="M-0.35,-0.85 L0.25,-0.85 L0.05,-0.1 Z" fill="#80C89A" opacity="0.8" filter="url(#sgf1)"/>
      
      <path d="M-0.8,0.2 L0.02,0.08 L-0.05,0.55 L-0.35,0.8 Z" fill="#FFFFFF" filter="url(#sgf2)"/>
      <path d="M0.721,-0.505 A0.88,0.88 0 0 1 0.674,0.566" fill="none" stroke="#D0FFE8" stroke-width="0.13" stroke-linecap="round" opacity="0.95" filter="url(#sgf3)"/>
      
    </g>
  </g>
  <g transform="translate(613.7 309.7) scale(30.2)">
    <clipPath id="sbc"><circle cx="0" cy="0" r="1"/></clipPath>
    <circle cx="0" cy="0" r="1" fill="url(#sbb)"/>
    <circle cx="0" cy="0" r="1" fill="url(#sbe)"/>
    <g clip-path="url(#sbc)">
      <ellipse cx="-0.05" cy="-0.58" rx="0.36" ry="0.22" fill="#A8F2FF" opacity="0.95" filter="url(#sbf1)"/>
      
      <ellipse cx="-0.48" cy="0.47" rx="0.33" ry="0.23" transform="rotate(40 -0.48 0.47)" fill="#FFFFFF" filter="url(#sbf2)"/>
      <path d="M0.754,-0.528 A0.92,0.92 0 0 1 0.651,0.651" fill="none" stroke="#E0FDFF" stroke-width="0.1" stroke-linecap="round" opacity="1.0" filter="url(#sbf3)"/>
      
    </g>
  </g>
  <g transform="translate(879.5 239.6) scale(40.5)">
    <clipPath id="spc"><circle cx="0" cy="0" r="1"/></clipPath>
    <circle cx="0" cy="0" r="1" fill="url(#spb)"/>
    <circle cx="0" cy="0" r="1" fill="url(#spe)"/>
    <g clip-path="url(#spc)">
      <ellipse cx="-0.1" cy="-0.66" rx="0.3" ry="0.13" fill="#FFB4F4" opacity="0.95" filter="url(#spf1)"/>
      <ellipse cx="-0.5" cy="0.45" rx="0.48" ry="0.28" transform="rotate(50 -0.5 0.45)" fill="#F2A0E8" opacity="0.55" filter="url(#spf1)"/>
      <ellipse cx="-0.53" cy="0.45" rx="0.35" ry="0.15" transform="rotate(50 -0.53 0.45)" fill="#FFFFFF" filter="url(#spf2)"/>
      <path d="M0.762,-0.533 A0.93,0.93 0 0 1 0.598,0.712" fill="none" stroke="#FFF6FF" stroke-width="0.075" stroke-linecap="round" opacity="1.0" filter="url(#spf3)"/>
      
    </g>
  </g>
</svg>
<div class="t" id="t1" style="left:166px;top:577px">Identificación</div>
<div class="t" id="t2" style="left:406px;top:421.5px">Selección</div>
<div class="t" id="t3" style="left:662px;top:308.5px">Cribado</div>
<div class="t" id="t4" style="left:923px;top:237.5px">Inclusión</div>
</body></html>
